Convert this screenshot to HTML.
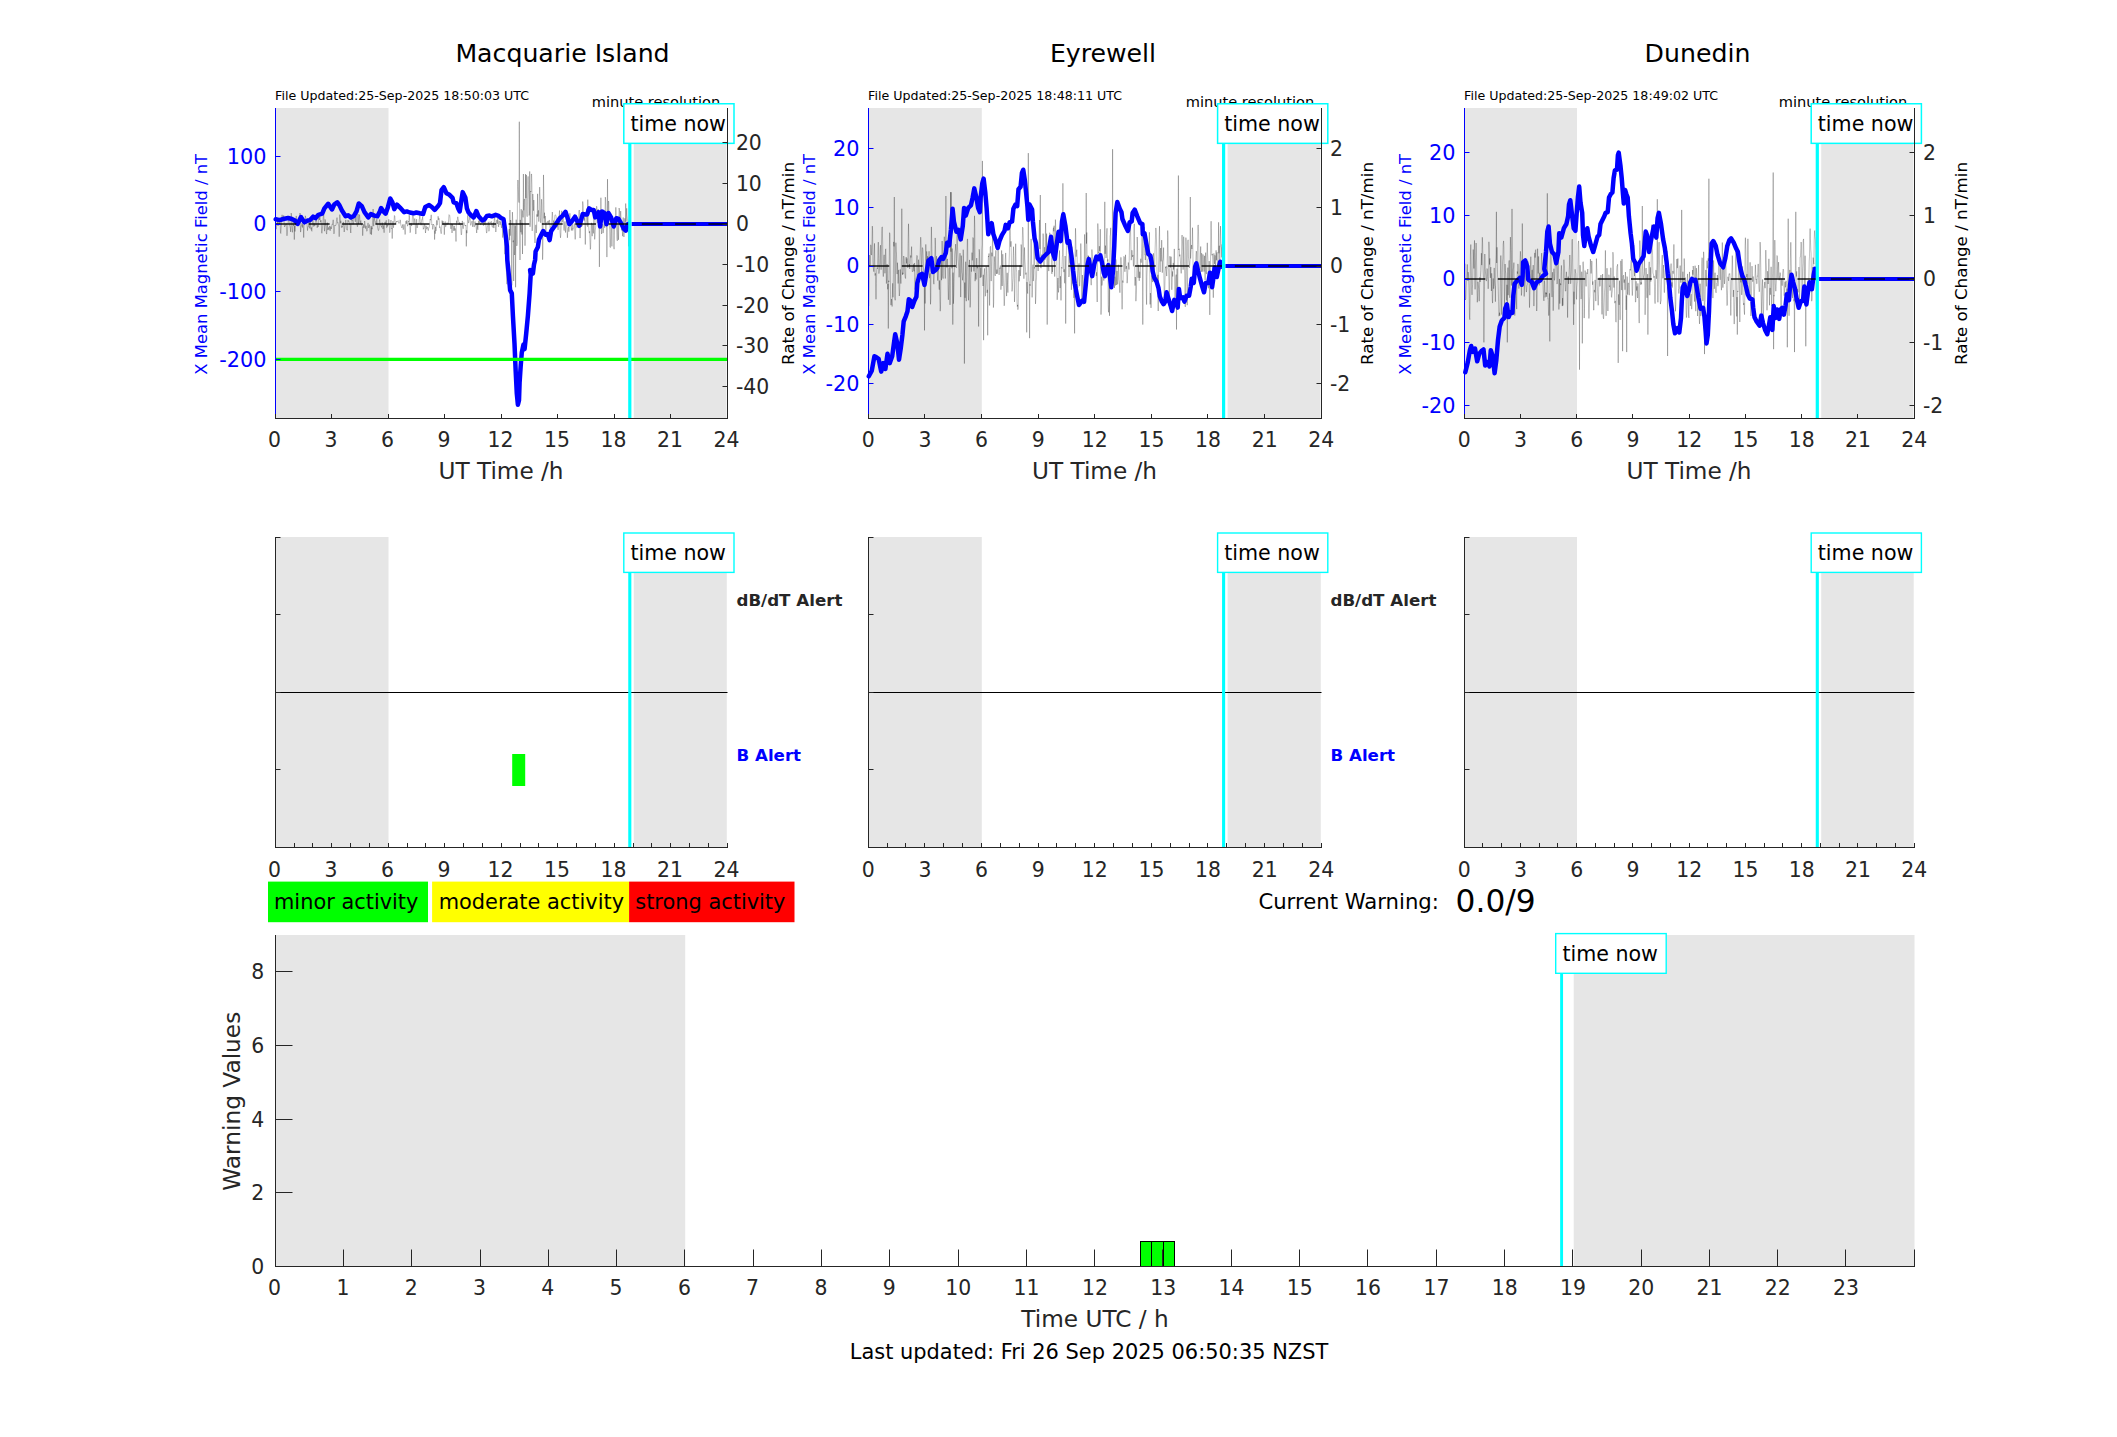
<!DOCTYPE html>
<html><head><meta charset="utf-8"><title>Geomagnetic activity</title>
<style>html,body{margin:0;padding:0;background:#fff}svg{display:block}text{font-family:"DejaVu Sans", "Liberation Sans", sans-serif;white-space:pre}</style>
</head><body>
<svg width="2117" height="1437" viewBox="0 0 2117 1437">
<rect width="2117" height="1437" fill="#fff"/>
<rect x="276.0" y="108.0" width="112.5" height="310.0" fill="#e6e6e6"/>
<rect x="633.8" y="108.0" width="92.7" height="310.0" fill="#e6e6e6"/>
<text x="275.1" y="100" font-size="12.63" fill="#000">File Updated:25-Sep-2025 18:50:03 UTC</text>
<text x="720.3" y="107" font-size="14.6" fill="#000" text-anchor="end">minute resolution</text>
<polyline fill="none" stroke="#000" stroke-opacity="0.55" stroke-width="0.45" stroke-linejoin="miter" points="275.5,223.8 275.8,226.7 276.1,229.2 276.4,226.4 276.8,224.2 277.1,223.2 277.4,221.6 277.7,223.1 278.0,226.0 278.3,224.5 278.6,220.0 279.0,218.1 279.3,220.0 279.6,225.0 279.9,223.3 280.2,222.5 280.5,232.7 280.8,233.5 281.1,228.9 281.5,223.6 281.8,216.5 282.1,214.8 282.4,216.6 282.7,217.0 283.0,217.6 283.3,217.0 283.7,215.4 284.0,219.8 284.3,225.1 284.6,227.0 284.9,226.1 285.2,224.9 285.5,225.0 285.9,224.9 286.2,223.5 286.5,229.5 286.8,235.5 287.1,235.8 287.4,233.0 287.7,226.4 288.1,222.4 288.4,220.5 288.7,218.8 289.0,219.0 289.3,223.1 289.6,226.0 289.9,226.5 290.3,228.2 290.6,231.9 290.9,221.3 291.2,213.1 291.5,215.3 291.8,227.4 292.1,230.5 292.4,232.3 292.8,225.2 293.1,218.9 293.4,223.3 293.7,225.8 294.0,224.7 294.3,239.6 294.6,225.9 295.0,231.5 295.3,227.6 295.6,220.1 295.9,218.0 296.2,215.9 296.5,217.3 296.8,222.2 297.2,222.6 297.5,222.8 297.8,222.6 298.1,222.1 298.4,222.6 298.7,221.7 299.0,221.1 299.4,220.3 299.7,221.2 300.0,213.0 300.3,223.1 300.6,232.1 300.9,229.7 301.2,225.9 301.5,226.1 301.9,223.3 302.2,223.9 302.5,227.5 302.8,224.4 303.1,225.3 303.4,228.5 303.7,237.6 304.1,224.9 304.4,224.7 304.7,223.2 305.0,219.4 305.3,215.8 305.6,217.0 305.9,221.2 306.3,222.6 306.6,223.2 306.9,223.4 307.2,226.7 307.5,230.6 307.8,227.5 308.1,226.2 308.5,226.4 308.8,221.5 309.1,221.8 309.4,228.3 309.7,228.1 310.0,222.2 310.3,221.3 310.6,227.3 311.0,229.4 311.3,227.5 311.6,230.9 311.9,231.3 312.2,226.3 312.5,221.7 312.8,216.1 313.2,218.5 313.5,226.5 313.8,226.2 314.1,223.5 314.4,224.3 314.7,226.2 315.0,225.3 315.4,221.4 315.7,221.2 316.0,221.5 316.3,218.4 316.6,219.4 316.9,224.9 317.2,227.8 317.6,225.6 317.9,225.2 318.2,226.9 318.5,219.4 318.8,214.8 319.1,217.6 319.4,220.0 319.8,216.7 320.1,217.9 320.4,222.0 320.7,222.2 321.0,220.2 321.3,223.4 321.6,232.0 321.9,233.3 322.3,230.0 322.6,226.1 322.9,223.4 323.2,217.2 323.5,214.2 323.8,215.0 324.1,224.8 324.5,231.2 324.8,227.4 325.1,219.4 325.4,220.6 325.7,225.2 326.0,225.0 326.3,232.6 326.7,234.1 327.0,228.0 327.3,222.6 327.6,228.0 327.9,230.1 328.2,228.6 328.5,227.5 328.9,229.5 329.2,229.5 329.5,226.1 329.8,227.0 330.1,230.8 330.4,229.6 330.7,226.5 331.0,227.8 331.4,228.9 331.7,226.6 332.0,224.6 332.3,223.9 332.6,224.5 332.9,222.4 333.2,219.8 333.6,228.2 333.9,233.9 334.2,233.1 334.5,227.2 334.8,225.0 335.1,225.6 335.4,225.2 335.8,225.4 336.1,224.5 336.4,221.6 336.7,219.7 337.0,217.6 337.3,220.8 337.6,223.2 338.0,222.5 338.3,224.3 338.6,225.0 338.9,226.8 339.2,236.7 339.5,223.8 339.8,214.6 340.1,218.1 340.5,223.3 340.8,220.7 341.1,222.1 341.4,227.6 341.7,227.1 342.0,226.2 342.3,227.4 342.7,225.5 343.0,223.3 343.3,221.9 343.6,223.6 343.9,228.7 344.2,232.0 344.5,229.9 344.9,225.5 345.2,223.5 345.5,221.3 345.8,219.9 346.1,223.7 346.4,228.6 346.7,229.5 347.1,230.2 347.4,230.1 347.7,224.0 348.0,220.1 348.3,221.5 348.6,221.1 348.9,220.7 349.3,222.7 349.6,224.5 349.9,223.7 350.2,224.3 350.5,230.9 350.8,233.0 351.1,225.7 351.4,215.3 351.8,215.8 352.1,220.6 352.4,219.9 352.7,222.3 353.0,224.5 353.3,224.1 353.6,221.3 354.0,215.2 354.3,216.0 354.6,217.9 354.9,217.2 355.2,221.8 355.5,221.7 355.8,216.4 356.2,216.3 356.5,221.5 356.8,224.5 357.1,225.2 357.4,226.7 357.7,225.4 358.0,214.0 358.4,224.1 358.7,222.1 359.0,221.2 359.3,216.0 359.6,214.6 359.9,219.4 360.2,224.0 360.5,221.2 360.9,220.5 361.2,222.9 361.5,224.9 361.8,225.1 362.1,225.7 362.4,226.2 362.7,235.7 363.1,227.1 363.4,227.3 363.7,224.2 364.0,227.8 364.3,226.5 364.6,221.0 364.9,222.3 365.3,227.0 365.6,228.6 365.9,225.7 366.2,225.9 366.5,229.2 366.8,231.3 367.1,231.0 367.5,227.2 367.8,223.7 368.1,222.9 368.4,225.7 368.7,228.0 369.0,227.0 369.3,224.8 369.6,224.6 370.0,231.6 370.3,234.2 370.6,233.6 370.9,229.6 371.2,226.0 371.5,234.7 371.8,227.6 372.2,229.2 372.5,222.3 372.8,220.0 373.1,209.0 373.4,222.7 373.7,226.2 374.0,221.1 374.4,217.5 374.7,220.0 375.0,221.0 375.3,222.3 375.6,221.8 375.9,222.6 376.2,224.1 376.6,220.1 376.9,219.1 377.2,223.3 377.5,227.2 377.8,228.5 378.1,229.8 378.4,230.6 378.8,230.0 379.1,227.8 379.4,221.2 379.7,219.5 380.0,222.3 380.3,223.4 380.6,225.4 380.9,225.8 381.3,226.1 381.6,227.4 381.9,225.3 382.2,222.5 382.5,224.2 382.8,229.0 383.1,228.8 383.5,225.4 383.8,229.8 384.1,232.7 384.4,228.1 384.7,223.3 385.0,221.9 385.3,223.0 385.7,224.4 386.0,220.8 386.3,220.3 386.6,227.7 386.9,227.6 387.2,224.7 387.5,226.4 387.9,225.6 388.2,224.8 388.5,222.5 388.8,219.3 389.1,221.2 389.4,226.9 389.7,232.7 390.0,231.5 390.4,224.8 390.7,221.2 391.0,220.0 391.3,223.1 391.6,228.7 391.9,228.0 392.2,238.6 392.6,224.7 392.9,221.2 393.2,226.0 393.5,227.7 393.8,224.0 394.1,220.2 394.4,215.5 394.8,216.2 395.1,221.2 395.4,223.6 395.7,223.0 396.0,222.9 396.3,222.2 396.6,221.0 397.0,221.7 397.3,221.1 397.6,221.2 397.9,220.9 398.2,220.7 398.5,222.7 398.8,223.3 399.2,222.8 399.5,223.2 399.8,222.4 400.1,219.8 400.4,220.5 400.7,224.1 401.0,225.4 401.3,226.2 401.7,227.7 402.0,228.0 402.3,226.7 402.6,224.5 402.9,226.0 403.2,229.7 403.5,229.1 403.9,224.3 404.2,224.7 404.5,227.3 404.8,232.0 405.1,234.5 405.4,232.9 405.7,221.5 406.1,221.1 406.4,223.8 406.7,220.8 407.0,220.2 407.3,224.5 407.6,226.2 407.9,224.3 408.3,221.2 408.6,222.2 408.9,220.5 409.2,215.2 409.5,217.7 409.8,226.3 410.1,232.7 410.4,231.8 410.8,223.8 411.1,223.0 411.4,226.0 411.7,225.6 412.0,223.9 412.3,219.4 412.6,215.4 413.0,215.0 413.3,215.3 413.6,220.8 413.9,224.4 414.2,222.8 414.5,219.5 414.8,218.5 415.2,221.8 415.5,231.2 415.8,234.1 416.1,232.3 416.4,219.3 416.7,219.3 417.0,227.4 417.4,227.9 417.7,225.4 418.0,223.8 418.3,223.3 418.6,223.8 418.9,223.9 419.2,219.5 419.5,219.0 419.9,211.0 420.2,223.4 420.5,222.7 420.8,223.3 421.1,225.3 421.4,223.0 421.7,219.7 422.1,219.8 422.4,217.9 422.7,216.7 423.0,224.7 423.3,229.3 423.6,228.4 423.9,228.6 424.3,226.2 424.6,224.1 424.9,224.3 425.2,228.9 425.5,233.0 425.8,230.2 426.1,225.8 426.5,228.7 426.8,229.2 427.1,228.4 427.4,227.5 427.7,226.9 428.0,229.9 428.3,230.6 428.7,228.3 429.0,227.7 429.3,226.8 429.6,225.2 429.9,222.7 430.2,219.0 430.5,220.2 430.8,218.1 431.2,214.8 431.5,218.3 431.8,224.8 432.1,224.2 432.4,225.3 432.7,229.4 433.0,227.5 433.4,224.0 433.7,224.7 434.0,225.0 434.3,225.9 434.6,239.6 434.9,230.7 435.2,233.7 435.6,226.8 435.9,231.0 436.2,229.5 436.5,220.4 436.8,221.4 437.1,225.2 437.4,222.8 437.8,219.4 438.1,216.3 438.4,218.0 438.7,219.8 439.0,218.3 439.3,222.2 439.6,227.7 439.9,226.6 440.3,227.9 440.6,231.6 440.9,233.0 441.2,233.7 441.5,232.4 441.8,224.5 442.1,220.5 442.5,223.0 442.8,223.0 443.1,221.2 443.4,224.5 443.7,223.5 444.0,224.0 444.3,234.7 444.7,224.8 445.0,221.8 445.3,221.5 445.6,226.8 445.9,226.6 446.2,224.2 446.5,224.2 446.9,222.7 447.2,222.6 447.5,224.4 447.8,224.1 448.1,223.4 448.4,224.1 448.7,218.5 449.0,214.7 449.4,215.1 449.7,215.3 450.0,218.5 450.3,224.0 450.6,226.4 450.9,228.9 451.2,224.9 451.6,223.8 451.9,233.0 452.2,232.5 452.5,224.0 452.8,225.7 453.1,225.8 453.4,227.6 453.8,230.9 454.1,226.1 454.4,226.0 454.7,230.5 455.0,228.3 455.3,228.9 455.6,229.7 456.0,241.5 456.3,226.1 456.6,220.7 456.9,222.7 457.2,222.9 457.5,218.4 457.8,216.8 458.2,219.2 458.5,220.2 458.8,222.3 459.1,224.8 459.4,223.4 459.7,222.4 460.0,223.4 460.3,224.9 460.7,226.0 461.0,232.5 461.3,234.9 461.6,234.0 461.9,227.9 462.2,220.9 462.5,221.1 462.9,227.3 463.2,228.7 463.5,225.5 463.8,222.7 464.1,222.5 464.4,224.6 464.7,225.3 465.1,225.2 465.4,226.1 465.7,225.0 466.0,225.6 466.3,246.4 466.6,230.3 466.9,233.2 467.3,226.8 467.6,216.2 467.9,215.1 468.2,219.3 468.5,223.1 468.8,222.4 469.1,220.2 469.4,219.5 469.8,216.5 470.1,217.3 470.4,223.0 470.7,225.3 471.0,224.6 471.3,223.6 471.6,222.3 472.0,221.1 472.3,222.7 472.6,226.8 472.9,225.4 473.2,218.5 473.5,218.9 473.8,225.1 474.2,227.1 474.5,225.3 474.8,222.5 475.1,221.5 475.4,223.3 475.7,225.3 476.0,225.0 476.4,229.7 476.7,233.0 477.0,228.1 477.3,224.6 477.6,228.4 477.9,229.7 478.2,225.7 478.6,220.8 478.9,221.0 479.2,223.0 479.5,218.5 479.8,216.9 480.1,221.9 480.4,224.7 480.7,224.5 481.1,224.3 481.4,222.9 481.7,218.9 482.0,219.7 482.3,221.5 482.6,219.0 482.9,221.0 483.3,225.6 483.6,225.4 483.9,221.4 484.2,219.4 484.5,222.2 484.8,224.8 485.1,222.0 485.5,220.4 485.8,223.7 486.1,227.6 486.4,231.9 486.7,233.1 487.0,231.4 487.3,227.3 487.7,225.7 488.0,223.3 488.3,221.8 488.6,225.5 488.9,231.3 489.2,230.0 489.5,223.8 489.8,221.8 490.2,222.3 490.5,222.4 490.8,222.6 491.1,221.7 491.4,221.3 491.7,224.3 492.0,226.7 492.4,226.9 492.7,227.3 493.0,224.5 493.3,222.4 493.6,226.5 493.9,228.1 494.2,220.2 494.6,215.3 494.9,220.0 495.2,224.5 495.5,228.2 495.8,232.0 496.1,229.9 496.4,224.2 496.8,219.9 497.1,222.7 497.4,224.0 497.7,217.9 498.0,217.6 498.3,225.4 498.6,226.8 498.9,221.8 499.3,220.8 499.6,222.0 499.9,224.6 500.2,224.9 500.5,221.5 500.8,221.9 501.1,225.0 501.5,227.9 501.8,227.2 502.1,223.7 502.4,228.3 502.7,237.6 503.0,232.8 503.3,225.2 503.7,225.8 504.0,228.4 504.3,232.4 504.6,231.4 504.9,254.2 505.2,229.9 505.5,231.6 505.9,233.3 506.2,269.6 506.5,272.4 506.8,283.9 507.1,284.3 507.4,262.8 507.7,248.3 508.1,255.5 508.4,256.6 508.7,244.7 509.0,230.6 509.3,229.1 509.6,240.2 509.9,210.0 510.2,235.7 510.6,220.0 510.9,222.1 511.2,230.5 511.5,242.7 511.8,285.4 512.1,233.5 512.4,212.1 512.8,221.9 513.1,242.2 513.4,240.5 513.7,281.0 514.0,224.3 514.3,228.5 514.6,255.0 515.0,248.4 515.3,225.6 515.6,287.3 515.9,227.4 516.2,219.7 516.5,230.4 516.8,245.9 517.2,243.2 517.5,186.4 517.8,180.0 518.1,181.0 518.4,189.1 518.7,201.4 519.0,202.6 519.3,121.7 519.7,222.1 520.0,260.0 520.3,219.9 520.6,228.7 520.9,232.3 521.2,209.2 521.5,216.8 521.9,234.5 522.2,222.9 522.5,254.0 522.8,210.5 523.1,217.4 523.4,174.0 523.7,210.4 524.1,201.2 524.4,198.9 524.7,220.1 525.0,245.7 525.3,227.8 525.6,174.0 525.9,198.1 526.3,175.0 526.6,210.0 526.9,215.5 527.2,216.7 527.5,201.2 527.8,180.9 528.1,176.4 528.4,184.4 528.8,199.3 529.1,215.5 529.4,213.4 529.7,171.4 530.0,226.8 530.3,222.2 530.6,191.0 531.0,191.9 531.3,174.0 531.6,174.0 531.9,184.6 532.2,230.9 532.5,215.4 532.8,194.0 533.2,205.2 533.5,210.7 533.8,200.0 534.1,206.3 534.4,232.7 534.7,236.8 535.0,243.0 535.4,229.6 535.7,225.3 536.0,224.8 536.3,233.0 536.6,229.1 536.9,214.4 537.2,216.8 537.6,193.8 537.9,216.3 538.2,211.7 538.5,210.4 538.8,221.6 539.1,215.8 539.4,196.4 539.7,187.1 540.1,198.8 540.4,217.6 540.7,222.8 541.0,220.4 541.3,211.8 541.6,199.2 541.9,204.2 542.3,233.1 542.6,259.7 542.9,252.2 543.2,205.7 543.5,174.9 543.8,193.7 544.1,218.4 544.5,212.7 544.8,222.9 545.1,216.0 545.4,216.4 545.7,234.7 546.0,234.3 546.3,222.8 546.7,222.2 547.0,221.7 547.3,221.9 547.6,222.7 547.9,221.3 548.2,220.8 548.5,223.0 548.8,223.8 549.2,220.2 549.5,220.2 549.8,223.8 550.1,228.1 550.4,232.4 550.7,230.3 551.0,225.9 551.4,225.7 551.7,224.0 552.0,216.7 552.3,212.0 552.6,215.5 552.9,223.5 553.2,225.0 553.6,220.5 553.9,223.3 554.2,228.5 554.5,223.6 554.8,215.8 555.1,214.9 555.4,214.8 555.8,215.5 556.1,216.4 556.4,219.5 556.7,227.3 557.0,227.2 557.3,224.5 557.6,227.0 558.0,229.9 558.3,229.2 558.6,224.2 558.9,221.4 559.2,215.3 559.5,210.5 559.8,217.0 560.1,232.4 560.5,237.8 560.8,235.1 561.1,227.8 561.4,219.1 561.7,210.8 562.0,214.8 562.3,222.3 562.7,221.5 563.0,217.8 563.3,219.7 563.6,225.3 563.9,229.7 564.2,230.6 564.5,224.8 564.9,221.4 565.2,228.1 565.5,232.5 565.8,227.0 566.1,222.8 566.4,220.7 566.7,220.0 567.1,231.1 567.4,237.8 567.7,232.7 568.0,228.6 568.3,227.8 568.6,227.0 568.9,231.7 569.2,227.8 569.6,217.2 569.9,213.3 570.2,217.8 570.5,224.2 570.8,225.5 571.1,227.3 571.4,230.5 571.8,226.5 572.1,220.2 572.4,224.2 572.7,230.5 573.0,228.0 573.3,228.3 573.6,228.0 574.0,225.0 574.3,223.5 574.6,225.1 574.9,237.3 575.2,239.4 575.5,237.0 575.8,224.1 576.2,220.9 576.5,224.3 576.8,227.1 577.1,227.8 577.4,224.6 577.7,225.4 578.0,226.7 578.3,222.4 578.7,218.5 579.0,211.0 579.3,210.0 579.6,221.7 579.9,238.0 580.2,238.0 580.5,228.9 580.9,223.7 581.2,226.0 581.5,226.9 581.8,224.6 582.1,226.2 582.4,219.3 582.7,201.5 583.1,205.5 583.4,216.0 583.7,214.2 584.0,218.4 584.3,220.5 584.6,217.3 584.9,224.2 585.3,244.5 585.6,225.4 585.9,222.8 586.2,215.9 586.5,208.7 586.8,213.6 587.1,225.6 587.5,226.6 587.8,199.6 588.1,220.9 588.4,223.4 588.7,226.9 589.0,230.8 589.3,233.1 589.6,231.3 590.0,242.0 590.3,249.4 590.6,247.5 590.9,235.8 591.2,226.4 591.5,222.8 591.8,230.3 592.2,236.2 592.5,230.3 592.8,224.0 593.1,228.9 593.4,233.4 593.7,219.0 594.0,209.2 594.4,226.1 594.7,239.4 595.0,234.7 595.3,230.1 595.6,227.9 595.9,223.7 596.2,216.9 596.6,206.2 596.9,207.1 597.2,218.4 597.5,222.8 597.8,214.6 598.1,209.2 598.4,219.8 598.7,223.5 599.1,226.5 599.4,266.9 599.7,226.8 600.0,211.1 600.3,213.6 600.6,226.6 600.9,197.7 601.3,227.5 601.6,234.0 601.9,230.7 602.2,227.1 602.5,224.0 602.8,226.4 603.1,233.1 603.5,230.3 603.8,221.5 604.1,219.6 604.4,217.6 604.7,227.8 605.0,216.9 605.3,197.1 605.7,199.9 606.0,216.4 606.3,212.0 606.6,223.8 606.9,257.1 607.2,227.7 607.5,179.2 607.8,217.6 608.2,215.8 608.5,201.0 608.8,202.0 609.1,223.7 609.4,226.2 609.7,229.3 610.0,246.8 610.4,247.6 610.7,231.3 611.0,215.8 611.3,223.8 611.6,233.3 611.9,246.4 612.2,227.8 612.6,227.4 612.9,225.3 613.2,218.7 613.5,221.3 613.8,246.2 614.1,249.2 614.4,235.1 614.8,219.7 615.1,223.4 615.4,222.6 615.7,207.6 616.0,207.3 616.3,221.2 616.6,228.4 617.0,238.2 617.3,240.9 617.6,228.0 617.9,218.6 618.2,230.1 618.5,239.8 618.8,224.0 619.1,208.0 619.5,210.3 619.8,219.7 620.1,222.9 620.4,215.9 620.7,211.1 621.0,216.6 621.3,227.2 621.7,230.4 622.0,226.3 622.3,230.8 622.6,236.2 622.9,227.7 623.2,217.5 623.5,224.4 623.9,237.0 624.2,231.4 624.5,222.4 624.8,218.3 625.1,225.0 625.4,228.4 625.7,203.5 626.1,221.6 626.4,216.3 626.7,208.3 627.0,215.3 627.3,218.5 627.6,220.5 627.9,222.0 628.2,222.4 628.6,246.4 628.9,226.9 629.2,219.5 629.5,217.8"/>
<polyline fill="none" stroke="#0000ff" stroke-width="4.5" stroke-linejoin="round" stroke-linecap="round" points="275.7,219.3 279.8,220.1 283.2,219.0 288.1,218.0 291.9,219.0 294.9,220.5 297.6,223.9 301.0,217.1 304.4,222.4 307.8,220.5 310.1,220.1 313.1,216.7 315.4,218.2 318.4,214.8 322.2,213.7 324.4,208.4 328.2,203.8 332.0,209.5 334.2,204.6 337.3,202.3 339.5,205.4 341.8,210.3 345.6,216.3 348.2,215.2 350.9,217.4 353.9,215.9 356.5,211.4 358.8,203.5 361.8,206.1 364.5,212.2 368.3,217.4 370.9,214.0 374.3,215.6 377.3,216.3 379.6,212.2 381.1,208.0 383.4,211.4 385.6,213.7 387.9,207.2 390.2,198.5 392.4,202.3 394.3,209.1 397.0,204.6 400.0,207.6 404.2,212.2 406.8,211.4 409.8,212.5 413.6,213.3 416.3,212.5 419.7,213.3 423.1,214.0 425.3,206.9 429.1,205.0 432.1,207.2 434.7,209.9 438.1,206.1 440.0,203.1 441.5,190.2 443.8,187.2 446.5,193.3 449.5,194.8 452.5,197.8 453.6,202.3 456.3,203.1 458.2,208.4 459.7,211.4 461.2,201.6 462.7,192.1 465.4,197.8 466.9,208.4 468.4,212.2 471.0,215.2 473.7,217.4 476.3,211.0 478.6,216.3 482.4,220.5 484.6,219.3 486.9,215.9 489.5,215.6 491.8,216.3 495.6,214.8 498.6,215.9 501.3,218.2 503.5,219.0 505.0,229.5 506.9,246.2 507.3,260.0 509.0,276.7 510.1,290.1 511.8,293.4 512.9,315.7 514.5,343.5 515.7,371.4 516.8,393.6 517.9,404.8 519.0,400.3 519.6,382.5 520.7,365.8 521.8,352.4 523.5,344.6 524.6,349.1 526.2,333.5 527.9,315.7 529.6,293.4 530.7,274.5 530.1,270.0 532.9,273.4 534.0,264.5 535.1,260.0 535.6,251.5 537.9,246.9 539.0,239.4 541.3,234.8 543.2,231.1 545.9,234.8 547.7,234.1 549.6,240.1 551.1,231.1 553.8,227.3 556.8,222.7 559.8,218.2 562.5,215.9 565.5,211.8 567.4,217.4 569.3,224.2 571.9,221.2 575.0,216.7 578.0,222.7 579.3,225.8 581.2,219.7 582.7,214.0 585.4,214.4 587.2,214.4 589.1,208.4 591.4,209.9 593.7,209.9 595.2,217.4 597.4,214.4 598.6,212.2 600.1,226.5 602.0,211.4 604.2,212.9 606.5,224.2 608.4,212.9 611.1,217.4 613.7,226.5 616.3,218.2 618.6,219.0 621.6,224.2 623.9,228.8 625.8,230.7 627.7,224.2 628.8,223.9"/>
<line x1="631.6" y1="224.0" x2="727.5" y2="224.0" stroke="#0000ff" stroke-width="4.2"/>
<line x1="275.5" y1="224.0" x2="727.5" y2="224.0" stroke="#000" stroke-width="1.9" stroke-opacity="0.68" stroke-dasharray="20.8 12.5"/>
<line x1="275.5" y1="359.4" x2="727.5" y2="359.4" stroke="#00ff00" stroke-width="3.2"/>
<line x1="629.8" y1="138.0" x2="629.8" y2="418.5" stroke="#00ffff" stroke-width="3.2"/>
<rect x="623.8" y="103.75" width="110.2" height="39.6" fill="#fff" stroke="#00ffff" stroke-width="1.5"/>
<text x="630.4" y="130.6" font-size="20.6" fill="#000">time now</text>
<line x1="275.5" y1="108.0" x2="275.5" y2="419.0" stroke="#0000ff" stroke-width="1"/>
<line x1="727.5" y1="108.0" x2="727.5" y2="419.0" stroke="#262626" stroke-width="1"/>
<line x1="275.0" y1="418.5" x2="728.0" y2="418.5" stroke="#262626" stroke-width="1"/>
<line x1="275.5" y1="418.5" x2="275.5" y2="414.0" stroke="#262626" stroke-width="1"/>
<text x="274.5" y="447.3" font-size="20.4" fill="#262626" text-anchor="middle">0</text>
<line x1="331.5" y1="418.5" x2="331.5" y2="414.0" stroke="#262626" stroke-width="1"/>
<text x="331.0" y="447.3" font-size="20.4" fill="#262626" text-anchor="middle">3</text>
<line x1="388.5" y1="418.5" x2="388.5" y2="414.0" stroke="#262626" stroke-width="1"/>
<text x="387.5" y="447.3" font-size="20.4" fill="#262626" text-anchor="middle">6</text>
<line x1="444.5" y1="418.5" x2="444.5" y2="414.0" stroke="#262626" stroke-width="1"/>
<text x="444.0" y="447.3" font-size="20.4" fill="#262626" text-anchor="middle">9</text>
<line x1="501.5" y1="418.5" x2="501.5" y2="414.0" stroke="#262626" stroke-width="1"/>
<text x="500.5" y="447.3" font-size="20.4" fill="#262626" text-anchor="middle">12</text>
<line x1="557.5" y1="418.5" x2="557.5" y2="414.0" stroke="#262626" stroke-width="1"/>
<text x="557.0" y="447.3" font-size="20.4" fill="#262626" text-anchor="middle">15</text>
<line x1="614.5" y1="418.5" x2="614.5" y2="414.0" stroke="#262626" stroke-width="1"/>
<text x="613.5" y="447.3" font-size="20.4" fill="#262626" text-anchor="middle">18</text>
<line x1="670.5" y1="418.5" x2="670.5" y2="414.0" stroke="#262626" stroke-width="1"/>
<text x="670.0" y="447.3" font-size="20.4" fill="#262626" text-anchor="middle">21</text>
<line x1="727.5" y1="418.5" x2="727.5" y2="414.0" stroke="#262626" stroke-width="1"/>
<text x="726.5" y="447.3" font-size="20.4" fill="#262626" text-anchor="middle">24</text>
<line x1="275.5" y1="156.5" x2="280.5" y2="156.5" stroke="#0000ff" stroke-width="1"/>
<text x="266.5" y="163.7" font-size="20.8" fill="#0000ff" text-anchor="end">100</text>
<line x1="275.5" y1="224.5" x2="280.5" y2="224.5" stroke="#0000ff" stroke-width="1"/>
<text x="266.5" y="231.4" font-size="20.8" fill="#0000ff" text-anchor="end">0</text>
<line x1="275.5" y1="291.5" x2="280.5" y2="291.5" stroke="#0000ff" stroke-width="1"/>
<text x="266.5" y="299.1" font-size="20.8" fill="#0000ff" text-anchor="end">-100</text>
<line x1="275.5" y1="359.5" x2="280.5" y2="359.5" stroke="#0000ff" stroke-width="1"/>
<text x="266.5" y="366.8" font-size="20.8" fill="#0000ff" text-anchor="end">-200</text>
<line x1="727.5" y1="142.5" x2="722.5" y2="142.5" stroke="#262626" stroke-width="1"/>
<text x="735.9" y="150.1" font-size="20.4" fill="#262626">20</text>
<line x1="727.5" y1="183.5" x2="722.5" y2="183.5" stroke="#262626" stroke-width="1"/>
<text x="735.9" y="190.7" font-size="20.4" fill="#262626">10</text>
<line x1="727.5" y1="224.5" x2="722.5" y2="224.5" stroke="#262626" stroke-width="1"/>
<text x="735.9" y="231.3" font-size="20.4" fill="#262626">0</text>
<line x1="727.5" y1="264.5" x2="722.5" y2="264.5" stroke="#262626" stroke-width="1"/>
<text x="735.9" y="271.9" font-size="20.4" fill="#262626">-10</text>
<line x1="727.5" y1="305.5" x2="722.5" y2="305.5" stroke="#262626" stroke-width="1"/>
<text x="735.9" y="312.5" font-size="20.4" fill="#262626">-20</text>
<line x1="727.5" y1="345.5" x2="722.5" y2="345.5" stroke="#262626" stroke-width="1"/>
<text x="735.9" y="353.1" font-size="20.4" fill="#262626">-30</text>
<line x1="727.5" y1="386.5" x2="722.5" y2="386.5" stroke="#262626" stroke-width="1"/>
<text x="735.9" y="393.7" font-size="20.4" fill="#262626">-40</text>
<text x="501.0" y="478.5" font-size="23.2" fill="#262626" text-anchor="middle">UT Time /h</text>
<text x="562.5" y="62" font-size="25.2" fill="#000" text-anchor="middle">Macquarie Island</text>
<text x="207.3" y="264.3" font-size="16.4" fill="#0000ff" text-anchor="middle" transform="rotate(-90 207.3 264.3)">X Mean Magnetic Field / nT</text>
<text x="793.5" y="263.5" font-size="16.7" fill="#000" text-anchor="middle" transform="rotate(-90 793.5 263.5)">Rate of Change / nT/min</text>
<rect x="869.0" y="108.0" width="112.8" height="310.0" fill="#e6e6e6"/>
<rect x="1227.6" y="108.0" width="92.9" height="310.0" fill="#e6e6e6"/>
<text x="868.1" y="100" font-size="12.63" fill="#000">File Updated:25-Sep-2025 18:48:11 UTC</text>
<text x="1314.3" y="107" font-size="14.6" fill="#000" text-anchor="end">minute resolution</text>
<polyline fill="none" stroke="#000" stroke-opacity="0.55" stroke-width="0.45" stroke-linejoin="miter" points="868.5,306.1 868.8,306.1 869.1,287.1 869.4,255.1 869.8,256.8 870.1,265.6 870.4,257.8 870.7,244.8 871.0,246.0 871.3,254.1 871.6,255.1 872.0,242.3 872.3,226.1 872.6,230.6 872.9,261.0 873.2,267.3 873.5,269.0 873.8,271.7 874.2,253.0 874.5,243.4 874.8,264.3 875.1,275.5 875.4,273.3 875.7,288.3 876.0,299.3 876.4,283.3 876.7,271.0 877.0,267.7 877.3,268.3 877.6,268.8 877.9,252.4 878.3,242.1 878.6,258.3 878.9,273.6 879.2,271.1 879.5,267.9 879.8,263.3 880.1,249.9 880.5,245.2 880.8,260.7 881.1,269.7 881.4,252.1 881.7,233.4 882.0,227.0 882.3,226.9 882.7,244.8 883.0,270.4 883.3,276.6 883.6,265.4 883.9,256.7 884.2,254.8 884.5,261.7 884.9,273.3 885.2,268.1 885.5,249.7 885.8,248.8 886.1,270.0 886.4,283.6 886.7,277.4 887.1,264.1 887.4,273.5 887.7,289.3 888.0,284.0 888.3,328.5 888.6,280.7 888.9,282.0 889.3,256.7 889.6,232.7 889.9,234.4 890.2,262.1 890.5,294.7 890.8,305.1 891.1,304.8 891.5,299.0 891.8,302.6 892.1,306.5 892.4,294.2 892.7,283.3 893.0,297.3 893.4,274.6 893.7,241.9 894.0,246.4 894.3,197.0 894.6,257.9 894.9,298.1 895.2,300.3 895.6,260.4 895.9,242.7 896.2,251.0 896.5,254.1 896.8,266.5 897.1,274.1 897.4,262.7 897.8,269.5 898.1,283.5 898.4,272.0 898.7,269.9 899.0,287.8 899.3,296.0 899.6,293.1 900.0,279.7 900.3,269.4 900.6,277.0 900.9,283.6 901.2,271.9 901.5,255.1 901.8,208.7 902.2,258.8 902.5,274.8 902.8,272.7 903.1,274.2 903.4,270.1 903.7,256.0 904.0,258.1 904.4,263.7 904.7,271.7 905.0,275.8 905.3,278.1 905.6,278.5 905.9,258.7 906.2,257.1 906.6,263.4 906.9,258.4 907.2,262.7 907.5,265.4 907.8,267.8 908.1,243.5 908.5,223.8 908.8,239.0 909.1,266.9 909.4,264.0 909.7,268.9 910.0,265.9 910.3,259.7 910.7,255.5 911.0,257.5 911.3,252.7 911.6,246.6 911.9,261.1 912.2,271.3 912.5,271.9 912.9,270.5 913.2,268.2 913.5,264.3 913.8,269.6 914.1,271.4 914.4,263.0 914.7,279.9 915.1,289.6 915.4,278.4 915.7,278.1 916.0,277.2 916.3,268.1 916.6,258.4 916.9,255.4 917.3,256.1 917.6,272.8 917.9,290.6 918.2,274.9 918.5,259.7 918.8,268.3 919.1,276.6 919.5,272.1 919.8,263.1 920.1,255.3 920.4,244.9 920.7,237.2 921.0,242.1 921.4,260.7 921.7,276.7 922.0,264.3 922.3,247.7 922.6,247.7 922.9,249.6 923.2,258.5 923.6,272.8 923.9,276.3 924.2,276.5 924.5,330.4 924.8,281.2 925.1,303.5 925.4,275.0 925.8,244.4 926.1,259.2 926.4,262.7 926.7,251.4 927.0,256.2 927.3,261.9 927.6,256.2 928.0,262.2 928.3,269.7 928.6,266.7 928.9,251.3 929.2,251.4 929.5,278.2 929.8,274.5 930.2,273.4 930.5,304.3 930.8,298.6 931.1,245.0 931.4,226.9 931.7,242.1 932.0,256.0 932.4,265.4 932.7,272.1 933.0,272.9 933.3,275.6 933.6,282.2 933.9,284.2 934.2,276.0 934.6,267.2 934.9,254.4 935.2,237.9 935.5,245.6 935.8,265.6 936.1,262.0 936.5,256.2 936.8,261.3 937.1,266.9 937.4,275.9 937.7,280.6 938.0,270.0 938.3,263.5 938.7,272.3 939.0,287.4 939.3,289.7 939.6,280.5 939.9,300.3 940.2,311.2 940.5,307.0 940.9,268.2 941.2,259.4 941.5,280.2 941.8,268.5 942.1,241.0 942.4,251.7 942.7,275.9 943.1,278.6 943.4,266.0 943.7,255.0 944.0,245.7 944.3,236.7 944.6,246.9 944.9,267.6 945.3,278.5 945.6,260.5 945.9,196.0 946.2,252.7 946.5,258.8 946.8,267.5 947.1,260.8 947.5,258.9 947.8,272.9 948.1,290.2 948.4,299.8 948.7,284.8 949.0,268.9 949.3,267.3 949.7,278.7 950.0,304.9 950.3,273.6 950.6,192.1 950.9,251.7 951.2,192.2 951.5,257.0 951.9,268.3 952.2,248.5 952.5,257.4 952.8,324.6 953.1,272.6 953.4,303.7 953.8,294.6 954.1,278.7 954.4,270.5 954.7,254.8 955.0,250.9 955.3,250.1 955.6,244.1 956.0,256.3 956.3,268.0 956.6,258.8 956.9,237.9 957.2,233.6 957.5,246.2 957.8,253.0 958.2,259.8 958.5,263.9 958.8,270.5 959.1,277.3 959.4,273.3 959.7,262.7 960.0,253.2 960.4,274.7 960.7,297.1 961.0,273.8 961.3,255.6 961.6,263.1 961.9,272.2 962.2,273.8 962.6,280.3 962.9,275.2 963.2,249.7 963.5,258.8 963.8,282.5 964.1,282.9 964.4,363.6 964.8,282.5 965.1,297.8 965.4,275.3 965.7,261.7 966.0,295.6 966.3,301.2 966.6,271.0 967.0,258.8 967.3,239.7 967.6,238.9 967.9,269.3 968.2,292.7 968.5,300.3 968.9,284.3 969.2,264.5 969.5,259.9 969.8,289.1 970.1,307.4 970.4,303.2 970.7,279.0 971.1,267.0 971.4,271.7 971.7,265.6 972.0,252.6 972.3,260.4 972.6,254.8 972.9,237.5 973.3,238.5 973.6,250.8 973.9,271.4 974.2,238.6 974.5,215.8 974.8,227.7 975.1,281.2 975.5,273.0 975.8,274.1 976.1,279.5 976.4,267.6 976.7,258.1 977.0,267.1 977.3,268.3 977.7,266.3 978.0,277.2 978.3,280.7 978.6,326.5 978.9,274.3 979.2,249.3 979.5,252.7 979.9,269.9 980.2,277.9 980.5,275.2 980.8,267.6 981.1,277.2 981.4,274.7 981.8,248.9 982.1,244.8 982.4,160.9 982.7,268.5 983.0,286.0 983.3,274.8 983.6,340.2 984.0,279.6 984.3,272.7 984.6,268.4 984.9,280.7 985.2,296.3 985.5,295.4 985.8,281.1 986.2,266.6 986.5,271.1 986.8,283.0 987.1,292.8 987.4,289.8 987.7,335.3 988.0,272.1 988.4,256.1 988.7,256.9 989.0,253.5 989.3,281.0 989.6,305.5 989.9,285.8 990.2,247.2 990.6,246.3 990.9,267.0 991.2,281.1 991.5,266.9 991.8,252.6 992.1,256.3 992.4,243.1 992.8,232.6 993.1,276.9 993.4,307.6 993.7,303.0 994.0,271.3 994.3,256.5 994.6,262.4 995.0,274.9 995.3,275.9 995.6,255.7 995.9,250.3 996.2,271.9 996.5,273.8 996.9,269.5 997.2,273.8 997.5,272.9 997.8,256.2 998.1,242.8 998.4,253.9 998.7,269.8 999.1,274.9 999.4,271.1 999.7,267.8 1000.0,268.7 1000.3,265.5 1000.6,265.7 1000.9,289.7 1001.3,282.4 1001.6,250.4 1001.9,267.7 1002.2,286.0 1002.5,267.4 1002.8,254.2 1003.1,268.9 1003.5,280.7 1003.8,289.6 1004.1,305.8 1004.4,305.3 1004.7,294.2 1005.0,282.9 1005.3,259.4 1005.7,252.9 1006.0,263.9 1006.3,280.9 1006.6,296.1 1006.9,285.4 1007.2,272.8 1007.5,284.1 1007.9,292.6 1008.2,280.4 1008.5,273.7 1008.8,271.2 1009.1,262.5 1009.4,253.1 1009.7,228.0 1010.1,224.1 1010.4,235.6 1010.7,246.8 1011.0,241.3 1011.3,252.8 1011.6,272.9 1012.0,291.4 1012.3,289.4 1012.6,282.6 1012.9,278.8 1013.2,257.3 1013.5,246.7 1013.8,255.6 1014.2,278.9 1014.5,301.9 1014.8,293.6 1015.1,278.3 1015.4,256.4 1015.7,243.7 1016.0,262.4 1016.4,269.5 1016.7,272.3 1017.0,302.1 1017.3,306.5 1017.6,304.9 1017.9,309.7 1018.2,307.4 1018.6,275.3 1018.9,270.1 1019.2,281.4 1019.5,275.1 1019.8,265.6 1020.1,265.9 1020.4,276.0 1020.8,267.9 1021.1,244.5 1021.4,246.4 1021.7,264.0 1022.0,265.0 1022.3,241.6 1022.6,227.2 1023.0,228.1 1023.3,239.2 1023.6,263.5 1023.9,278.7 1024.2,260.3 1024.5,247.5 1024.8,259.0 1025.2,264.5 1025.5,269.5 1025.8,274.5 1026.1,272.7 1026.4,277.4 1026.7,332.4 1027.0,282.1 1027.4,291.6 1027.7,293.6 1028.0,258.2 1028.3,153.1 1028.6,253.0 1028.9,280.4 1029.3,282.0 1029.6,338.2 1029.9,284.1 1030.2,285.8 1030.5,275.2 1030.8,256.0 1031.1,238.9 1031.5,254.6 1031.8,283.3 1032.1,297.4 1032.4,289.7 1032.7,266.9 1033.0,264.7 1033.3,281.1 1033.7,273.5 1034.0,241.6 1034.3,238.1 1034.6,268.4 1034.9,267.3 1035.2,272.1 1035.5,303.9 1035.9,295.7 1036.2,281.4 1036.5,277.6 1036.8,264.0 1037.1,256.3 1037.4,255.2 1037.7,261.9 1038.1,271.0 1038.4,266.8 1038.7,248.6 1039.0,245.3 1039.3,227.1 1039.6,220.0 1039.9,249.0 1040.3,195.0 1040.6,267.4 1040.9,268.1 1041.2,268.1 1041.5,258.6 1041.8,254.5 1042.2,262.3 1042.5,256.2 1042.8,241.6 1043.1,233.6 1043.4,237.6 1043.7,258.8 1044.0,266.2 1044.4,247.4 1044.7,247.2 1045.0,259.8 1045.3,237.5 1045.6,223.0 1045.9,236.0 1046.2,254.4 1046.6,233.6 1046.9,264.1 1047.2,324.6 1047.5,272.6 1047.8,258.5 1048.1,253.8 1048.4,267.1 1048.8,271.1 1049.1,263.8 1049.4,245.1 1049.7,232.7 1050.0,234.3 1050.3,235.1 1050.6,239.6 1051.0,236.4 1051.3,244.9 1051.6,270.4 1051.9,273.9 1052.2,266.4 1052.5,271.9 1052.8,263.5 1053.2,229.3 1053.5,227.7 1053.8,231.3 1054.1,225.7 1054.4,242.6 1054.7,276.6 1055.0,242.7 1055.4,219.6 1055.7,226.6 1056.0,260.2 1056.3,249.2 1056.6,239.1 1056.9,272.8 1057.2,299.8 1057.6,284.1 1057.9,278.0 1058.2,288.4 1058.5,292.4 1058.8,284.8 1059.1,261.4 1059.5,250.5 1059.8,273.1 1060.1,288.1 1060.4,276.2 1060.7,281.3 1061.0,300.4 1061.3,284.3 1061.7,267.1 1062.0,268.5 1062.3,257.2 1062.6,254.7 1062.9,183.3 1063.2,252.8 1063.5,267.5 1063.9,272.1 1064.2,269.3 1064.5,282.3 1064.8,283.3 1065.1,256.0 1065.4,263.1 1065.7,323.6 1066.1,268.8 1066.4,250.4 1066.7,237.0 1067.0,237.6 1067.3,244.1 1067.6,236.3 1067.9,243.6 1068.3,249.4 1068.6,250.4 1068.9,277.0 1069.2,274.6 1069.5,248.7 1069.8,254.8 1070.1,262.9 1070.5,254.6 1070.8,248.7 1071.1,273.4 1071.4,289.8 1071.7,263.5 1072.0,246.7 1072.3,262.4 1072.7,283.6 1073.0,276.4 1073.3,266.8 1073.6,282.3 1073.9,297.9 1074.2,290.4 1074.6,333.4 1074.9,277.0 1075.2,248.5 1075.5,228.3 1075.8,237.2 1076.1,256.7 1076.4,252.5 1076.8,249.7 1077.1,256.6 1077.4,273.7 1077.7,287.9 1078.0,279.5 1078.3,271.9 1078.6,267.8 1079.0,263.4 1079.3,275.7 1079.6,286.2 1079.9,281.5 1080.2,271.1 1080.5,255.2 1080.8,243.5 1081.2,255.7 1081.5,283.1 1081.8,303.9 1082.1,295.9 1082.4,275.0 1082.7,279.6 1083.0,300.1 1083.4,304.4 1083.7,284.0 1084.0,271.9 1084.3,259.5 1084.6,234.4 1084.9,246.9 1085.2,274.4 1085.6,284.3 1085.9,259.8 1086.2,193.0 1086.5,243.6 1086.8,232.5 1087.1,263.7 1087.5,278.3 1087.8,262.7 1088.1,255.5 1088.4,257.1 1088.7,255.9 1089.0,258.9 1089.3,259.2 1089.7,261.3 1090.0,264.9 1090.3,258.1 1090.6,257.8 1090.9,277.9 1091.2,285.2 1091.5,261.6 1091.9,249.5 1092.2,253.2 1092.5,256.8 1092.8,269.0 1093.1,272.0 1093.4,263.4 1093.7,265.9 1094.1,268.6 1094.4,267.0 1094.7,268.3 1095.0,262.7 1095.3,256.8 1095.6,261.8 1095.9,270.0 1096.3,275.9 1096.6,272.3 1096.9,286.5 1097.2,302.0 1097.5,254.2 1097.8,223.5 1098.1,231.0 1098.5,253.3 1098.8,252.5 1099.1,253.2 1099.4,246.2 1099.7,251.2 1100.0,247.4 1100.3,229.2 1100.7,284.7 1101.0,314.6 1101.3,305.5 1101.6,276.7 1101.9,285.5 1102.2,283.6 1102.5,276.2 1102.9,265.7 1103.2,263.6 1103.5,274.8 1103.8,280.6 1104.1,269.0 1104.4,253.4 1104.8,201.8 1105.1,253.9 1105.4,245.6 1105.7,248.2 1106.0,258.0 1106.3,253.1 1106.6,235.0 1107.0,228.3 1107.3,254.5 1107.6,261.5 1107.9,259.4 1108.2,305.2 1108.5,312.3 1108.8,304.5 1109.2,279.3 1109.5,315.8 1109.8,257.0 1110.1,235.9 1110.4,235.0 1110.7,227.8 1111.0,252.4 1111.4,268.4 1111.7,267.4 1112.0,267.7 1112.3,248.7 1112.6,149.2 1112.9,241.9 1113.2,255.5 1113.6,275.7 1113.9,276.7 1114.2,281.3 1114.5,287.9 1114.8,276.7 1115.1,280.7 1115.4,285.5 1115.8,259.3 1116.1,261.6 1116.4,285.0 1116.7,278.0 1117.0,270.9 1117.3,280.8 1117.7,284.4 1118.0,273.6 1118.3,264.7 1118.6,269.8 1118.9,279.8 1119.2,281.9 1119.5,284.6 1119.9,292.7 1120.2,279.3 1120.5,260.1 1120.8,257.3 1121.1,257.5 1121.4,261.1 1121.7,295.0 1122.1,309.3 1122.4,299.2 1122.7,280.6 1123.0,282.6 1123.3,270.3 1123.6,262.1 1123.9,256.4 1124.3,257.3 1124.6,266.0 1124.9,271.8 1125.2,262.7 1125.5,254.8 1125.8,263.7 1126.1,268.8 1126.5,266.1 1126.8,272.8 1127.1,283.2 1127.4,280.5 1127.7,272.8 1128.0,267.0 1128.3,262.5 1128.7,265.5 1129.0,269.5 1129.3,255.4 1129.6,237.0 1129.9,231.4 1130.2,226.5 1130.5,227.1 1130.9,246.7 1131.2,260.2 1131.5,257.9 1131.8,250.2 1132.1,250.9 1132.4,256.9 1132.8,255.1 1133.1,255.0 1133.4,266.4 1133.7,262.3 1134.0,227.3 1134.3,223.8 1134.6,252.6 1135.0,285.6 1135.3,277.0 1135.6,281.3 1135.9,301.2 1136.2,294.7 1136.5,287.9 1136.8,270.8 1137.2,237.0 1137.5,244.9 1137.8,269.3 1138.1,277.8 1138.4,272.1 1138.7,264.8 1139.0,280.8 1139.4,280.5 1139.7,271.7 1140.0,278.0 1140.3,272.7 1140.6,259.5 1140.9,258.7 1141.2,262.7 1141.6,253.4 1141.9,242.4 1142.2,226.7 1142.5,256.3 1142.8,324.6 1143.1,260.2 1143.4,248.7 1143.8,241.6 1144.1,227.2 1144.4,242.2 1144.7,254.4 1145.0,254.1 1145.3,260.0 1145.6,248.6 1146.0,249.1 1146.3,293.3 1146.6,304.6 1146.9,276.4 1147.2,267.2 1147.5,266.3 1147.8,259.3 1148.2,259.1 1148.5,255.4 1148.8,254.6 1149.1,247.1 1149.4,232.3 1149.7,262.9 1150.1,304.4 1150.4,293.1 1150.7,295.4 1151.0,307.9 1151.3,297.9 1151.6,275.3 1151.9,277.2 1152.3,281.2 1152.6,282.1 1152.9,273.9 1153.2,257.3 1153.5,253.3 1153.8,265.1 1154.1,281.4 1154.5,278.7 1154.8,257.1 1155.1,249.6 1155.4,240.2 1155.7,228.2 1156.0,227.9 1156.3,232.4 1156.7,247.8 1157.0,271.1 1157.3,286.9 1157.6,284.5 1157.9,274.8 1158.2,311.0 1158.5,267.9 1158.9,256.6 1159.2,236.7 1159.5,226.2 1159.8,251.4 1160.1,272.0 1160.4,250.5 1160.7,248.0 1161.1,261.4 1161.4,255.0 1161.7,240.1 1162.0,254.5 1162.3,272.7 1162.6,261.2 1163.0,259.7 1163.3,257.1 1163.6,247.6 1163.9,275.4 1164.2,298.0 1164.5,297.1 1164.8,288.4 1165.2,271.9 1165.5,267.3 1165.8,268.1 1166.1,266.2 1166.4,271.2 1166.7,276.1 1167.0,268.3 1167.4,252.9 1167.7,230.5 1168.0,237.5 1168.3,268.7 1168.6,269.0 1168.9,281.6 1169.2,305.2 1169.6,287.1 1169.9,256.2 1170.2,259.9 1170.5,267.5 1170.8,265.0 1171.1,256.7 1171.4,268.4 1171.8,289.8 1172.1,282.2 1172.4,271.4 1172.7,276.5 1173.0,271.1 1173.3,262.9 1173.6,269.6 1174.0,263.4 1174.3,248.9 1174.6,277.1 1174.9,307.2 1175.2,306.1 1175.5,292.4 1175.8,277.6 1176.2,274.6 1176.5,329.5 1176.8,276.2 1177.1,268.6 1177.4,280.8 1177.7,300.7 1178.0,256.5 1178.4,175.5 1178.7,250.0 1179.0,248.9 1179.3,248.8 1179.6,256.3 1179.9,254.6 1180.3,258.9 1180.6,264.2 1180.9,268.1 1181.2,273.4 1181.5,260.0 1181.8,237.2 1182.1,235.0 1182.5,241.9 1182.8,252.0 1183.1,269.7 1183.4,258.7 1183.7,236.7 1184.0,249.5 1184.3,261.8 1184.7,273.9 1185.0,304.1 1185.3,306.9 1185.6,276.1 1185.9,237.6 1186.2,245.6 1186.5,263.6 1186.9,286.7 1187.2,305.2 1187.5,286.7 1187.8,241.7 1188.1,239.8 1188.4,257.0 1188.7,258.8 1189.1,263.1 1189.4,267.9 1189.7,265.1 1190.0,260.3 1190.3,197.0 1190.6,258.5 1190.9,252.3 1191.3,247.5 1191.6,245.0 1191.9,249.0 1192.2,243.1 1192.5,227.7 1192.8,244.2 1193.2,280.3 1193.5,283.8 1193.8,272.4 1194.1,276.9 1194.4,283.3 1194.7,277.6 1195.0,275.6 1195.4,273.4 1195.7,262.5 1196.0,254.5 1196.3,251.1 1196.6,253.1 1196.9,262.2 1197.2,261.4 1197.6,244.6 1197.9,226.6 1198.2,224.9 1198.5,231.2 1198.8,248.8 1199.1,268.2 1199.4,279.6 1199.8,274.6 1200.1,269.4 1200.4,254.7 1200.7,246.5 1201.0,267.3 1201.3,271.8 1201.6,253.2 1202.0,255.8 1202.3,271.7 1202.6,268.4 1202.9,254.4 1203.2,254.8 1203.5,262.0 1203.8,271.7 1204.2,271.4 1204.5,255.8 1204.8,266.4 1205.1,280.3 1205.4,258.6 1205.7,252.6 1206.0,271.6 1206.4,274.1 1206.7,266.6 1207.0,252.4 1207.3,242.8 1207.6,253.8 1207.9,259.7 1208.2,272.3 1208.6,288.3 1208.9,276.0 1209.2,261.1 1209.5,268.3 1209.8,314.9 1210.1,273.2 1210.5,265.6 1210.8,227.2 1211.1,221.2 1211.4,228.6 1211.7,252.8 1212.0,255.3 1212.3,253.9 1212.7,259.1 1213.0,282.8 1213.3,297.7 1213.6,274.2 1213.9,253.4 1214.2,259.8 1214.5,263.9 1214.9,255.3 1215.2,256.3 1215.5,268.6 1215.8,258.5 1216.1,250.3 1216.4,260.3 1216.7,253.6 1217.1,252.3 1217.4,263.5 1217.7,270.0 1218.0,267.2 1218.3,257.7 1218.6,222.3 1218.9,253.3 1219.3,245.7 1219.6,268.1 1219.9,269.4 1220.2,236.6 1220.5,226.1 1220.8,240.1 1221.1,246.2 1221.5,248.0 1221.8,257.4 1222.1,244.4 1222.4,259.8 1222.7,279.5 1223.0,274.3 1223.3,270.0"/>
<polyline fill="none" stroke="#0000ff" stroke-width="4.5" stroke-linejoin="round" stroke-linecap="round" points="868.8,376.3 871.8,370.7 874.4,356.3 876.1,357.1 878.6,358.8 881.2,371.6 883.3,363.1 885.4,369.0 887.5,353.7 889.7,363.1 892.2,356.3 893.9,343.5 895.2,334.2 897.3,343.5 899.0,359.7 900.7,348.6 902.4,335.0 903.7,321.4 905.8,316.3 907.5,311.2 908.8,299.3 910.9,301.0 912.2,307.0 914.3,301.0 916.4,296.8 917.3,283.2 919.4,275.5 922.0,273.8 924.5,284.9 926.6,272.1 928.4,260.6 931.3,258.1 933.0,272.1 935.6,270.0 937.3,267.9 939.0,260.6 941.5,257.2 943.2,258.9 945.8,253.0 947.1,242.8 949.2,245.3 950.9,230.0 952.6,208.8 953.9,221.5 956.4,231.7 958.5,230.0 960.7,239.4 962.8,225.8 964.1,207.9 965.8,215.6 968.3,207.9 970.9,205.4 972.6,197.7 974.3,188.4 976.4,197.7 978.1,207.9 979.8,212.2 980.6,197.7 982.3,183.3 983.6,178.6 985.3,192.6 986.6,207.9 988.3,234.3 990.4,225.8 991.7,223.2 993.4,234.3 995.5,240.2 997.7,247.9 999.4,241.1 1001.9,235.1 1004.5,230.9 1005.7,224.9 1007.9,228.3 1009.6,222.4 1012.1,221.5 1013.4,208.8 1015.5,204.5 1017.2,206.2 1018.5,189.2 1020.6,186.7 1021.9,173.1 1023.2,169.7 1024.9,180.7 1026.1,192.6 1027.4,206.2 1028.3,219.8 1029.5,204.5 1032.1,209.6 1032.9,221.5 1034.6,238.5 1035.9,242.8 1037.6,258.1 1040.2,261.5 1042.7,258.1 1045.0,255.5 1048.4,252.1 1051.0,236.8 1052.7,252.1 1054.8,258.9 1056.9,242.8 1058.6,231.7 1060.7,241.1 1062.0,221.5 1063.3,214.3 1065.4,225.8 1067.5,242.8 1069.2,241.1 1071.4,255.5 1073.1,271.0 1074.8,283.8 1076.9,294.8 1079.0,305.0 1082.0,300.8 1084.1,301.6 1085.8,284.6 1087.5,265.1 1088.8,259.1 1090.5,269.3 1092.2,276.1 1094.3,264.2 1096.4,256.6 1098.1,259.1 1100.3,255.3 1102.0,262.5 1103.7,272.7 1104.9,276.1 1106.6,269.3 1108.4,265.1 1110.1,277.8 1111.3,287.2 1113.0,271.0 1114.3,245.5 1115.6,213.0 1117.3,202.0 1119.8,208.8 1121.5,212.2 1122.4,219.0 1124.9,224.9 1127.9,230.9 1129.6,222.4 1131.7,221.5 1132.6,213.0 1134.7,209.6 1137.3,216.4 1140.2,223.2 1142.4,224.1 1142.8,234.3 1144.5,233.4 1146.2,242.8 1148.3,254.0 1150.4,255.7 1151.7,262.5 1152.6,271.0 1154.3,277.8 1156.4,281.2 1158.5,288.0 1159.8,296.5 1161.9,301.6 1163.6,304.2 1165.3,301.6 1166.6,292.3 1168.3,298.2 1170.4,305.0 1172.1,311.0 1174.3,299.9 1176.4,301.6 1177.7,307.6 1178.9,288.9 1180.2,298.2 1182.8,297.4 1184.5,301.6 1186.6,295.7 1189.1,295.7 1190.8,286.3 1191.7,278.7 1193.8,282.9 1195.1,266.8 1196.4,263.4 1198.1,271.0 1199.8,277.8 1201.9,285.5 1204.0,292.3 1205.7,282.9 1208.3,282.9 1210.0,272.7 1212.1,287.2 1213.8,275.3 1214.6,267.6 1216.8,277.0 1218.9,266.8 1220.2,261.7 1222.3,266.8"/>
<line x1="1225.4" y1="266.0" x2="1321.5" y2="266.0" stroke="#0000ff" stroke-width="4.2"/>
<line x1="868.5" y1="266.0" x2="1321.5" y2="266.0" stroke="#000" stroke-width="1.9" stroke-opacity="0.68" stroke-dasharray="20.8 12.5"/>
<line x1="1223.6" y1="138.0" x2="1223.6" y2="418.5" stroke="#00ffff" stroke-width="3.2"/>
<rect x="1217.6" y="103.75" width="110.2" height="39.6" fill="#fff" stroke="#00ffff" stroke-width="1.5"/>
<text x="1224.2" y="130.6" font-size="20.6" fill="#000">time now</text>
<line x1="868.5" y1="108.0" x2="868.5" y2="419.0" stroke="#0000ff" stroke-width="1"/>
<line x1="1321.5" y1="108.0" x2="1321.5" y2="419.0" stroke="#262626" stroke-width="1"/>
<line x1="868.0" y1="418.5" x2="1322.0" y2="418.5" stroke="#262626" stroke-width="1"/>
<line x1="868.5" y1="418.5" x2="868.5" y2="414.0" stroke="#262626" stroke-width="1"/>
<text x="868.3" y="447.3" font-size="20.4" fill="#262626" text-anchor="middle">0</text>
<line x1="924.5" y1="418.5" x2="924.5" y2="414.0" stroke="#262626" stroke-width="1"/>
<text x="924.9" y="447.3" font-size="20.4" fill="#262626" text-anchor="middle">3</text>
<line x1="981.5" y1="418.5" x2="981.5" y2="414.0" stroke="#262626" stroke-width="1"/>
<text x="981.5" y="447.3" font-size="20.4" fill="#262626" text-anchor="middle">6</text>
<line x1="1038.5" y1="418.5" x2="1038.5" y2="414.0" stroke="#262626" stroke-width="1"/>
<text x="1038.2" y="447.3" font-size="20.4" fill="#262626" text-anchor="middle">9</text>
<line x1="1094.5" y1="418.5" x2="1094.5" y2="414.0" stroke="#262626" stroke-width="1"/>
<text x="1094.8" y="447.3" font-size="20.4" fill="#262626" text-anchor="middle">12</text>
<line x1="1151.5" y1="418.5" x2="1151.5" y2="414.0" stroke="#262626" stroke-width="1"/>
<text x="1151.4" y="447.3" font-size="20.4" fill="#262626" text-anchor="middle">15</text>
<line x1="1207.5" y1="418.5" x2="1207.5" y2="414.0" stroke="#262626" stroke-width="1"/>
<text x="1208.0" y="447.3" font-size="20.4" fill="#262626" text-anchor="middle">18</text>
<line x1="1264.5" y1="418.5" x2="1264.5" y2="414.0" stroke="#262626" stroke-width="1"/>
<text x="1264.7" y="447.3" font-size="20.4" fill="#262626" text-anchor="middle">21</text>
<line x1="1321.5" y1="418.5" x2="1321.5" y2="414.0" stroke="#262626" stroke-width="1"/>
<text x="1321.3" y="447.3" font-size="20.4" fill="#262626" text-anchor="middle">24</text>
<line x1="868.5" y1="148.5" x2="873.5" y2="148.5" stroke="#0000ff" stroke-width="1"/>
<text x="859.5" y="155.8" font-size="20.8" fill="#0000ff" text-anchor="end">20</text>
<line x1="868.5" y1="207.5" x2="873.5" y2="207.5" stroke="#0000ff" stroke-width="1"/>
<text x="859.5" y="214.6" font-size="20.8" fill="#0000ff" text-anchor="end">10</text>
<line x1="868.5" y1="266.5" x2="873.5" y2="266.5" stroke="#0000ff" stroke-width="1"/>
<text x="859.5" y="273.4" font-size="20.8" fill="#0000ff" text-anchor="end">0</text>
<line x1="868.5" y1="324.5" x2="873.5" y2="324.5" stroke="#0000ff" stroke-width="1"/>
<text x="859.5" y="332.2" font-size="20.8" fill="#0000ff" text-anchor="end">-10</text>
<line x1="868.5" y1="383.5" x2="873.5" y2="383.5" stroke="#0000ff" stroke-width="1"/>
<text x="859.5" y="391.0" font-size="20.8" fill="#0000ff" text-anchor="end">-20</text>
<line x1="1321.5" y1="148.5" x2="1316.5" y2="148.5" stroke="#262626" stroke-width="1"/>
<text x="1329.9" y="155.7" font-size="20.4" fill="#262626">2</text>
<line x1="1321.5" y1="207.5" x2="1316.5" y2="207.5" stroke="#262626" stroke-width="1"/>
<text x="1329.9" y="214.5" font-size="20.4" fill="#262626">1</text>
<line x1="1321.5" y1="266.5" x2="1316.5" y2="266.5" stroke="#262626" stroke-width="1"/>
<text x="1329.9" y="273.3" font-size="20.4" fill="#262626">0</text>
<line x1="1321.5" y1="324.5" x2="1316.5" y2="324.5" stroke="#262626" stroke-width="1"/>
<text x="1329.9" y="332.1" font-size="20.4" fill="#262626">-1</text>
<line x1="1321.5" y1="383.5" x2="1316.5" y2="383.5" stroke="#262626" stroke-width="1"/>
<text x="1329.9" y="390.9" font-size="20.4" fill="#262626">-2</text>
<text x="1094.5" y="478.5" font-size="23.2" fill="#262626" text-anchor="middle">UT Time /h</text>
<text x="1103" y="62" font-size="25.2" fill="#000" text-anchor="middle">Eyrewell</text>
<text x="815" y="264.3" font-size="16.4" fill="#0000ff" text-anchor="middle" transform="rotate(-90 815 264.3)">X Mean Magnetic Field / nT</text>
<text x="1372.5" y="263.5" font-size="16.7" fill="#000" text-anchor="middle" transform="rotate(-90 1372.5 263.5)">Rate of Change / nT/min</text>
<rect x="1465.0" y="108.0" width="112.0" height="310.0" fill="#e6e6e6"/>
<rect x="1821.2" y="108.0" width="92.2" height="310.0" fill="#e6e6e6"/>
<text x="1464.1" y="100" font-size="12.63" fill="#000">File Updated:25-Sep-2025 18:49:02 UTC</text>
<text x="1907.3" y="107" font-size="14.6" fill="#000" text-anchor="end">minute resolution</text>
<polyline fill="none" stroke="#000" stroke-opacity="0.55" stroke-width="0.45" stroke-linejoin="miter" points="1464.5,277.1 1464.8,263.7 1465.1,279.0 1465.4,300.0 1465.8,298.4 1466.1,287.4 1466.4,280.9 1466.7,277.6 1467.0,269.2 1467.3,264.4 1467.6,276.7 1467.9,280.9 1468.2,272.1 1468.6,276.2 1468.9,284.0 1469.2,295.7 1469.5,317.4 1469.8,319.7 1470.1,298.5 1470.4,255.2 1470.8,244.5 1471.1,260.0 1471.4,275.2 1471.7,289.2 1472.0,294.9 1472.3,288.5 1472.6,284.4 1472.9,267.3 1473.2,249.5 1473.6,259.4 1473.9,268.5 1474.2,249.0 1474.5,240.4 1474.8,270.0 1475.1,289.4 1475.4,267.1 1475.8,252.2 1476.1,243.0 1476.4,251.0 1476.7,271.2 1477.0,290.5 1477.3,302.3 1477.6,295.7 1477.9,281.8 1478.2,283.7 1478.6,288.2 1478.9,292.4 1479.2,301.2 1479.5,289.2 1479.8,277.4 1480.1,282.0 1480.4,276.9 1480.8,270.6 1481.1,263.8 1481.4,253.2 1481.7,265.1 1482.0,249.6 1482.3,237.3 1482.6,242.9 1482.9,263.2 1483.2,271.0 1483.6,279.2 1483.9,342.4 1484.2,302.3 1484.5,286.7 1484.8,254.0 1485.1,268.4 1485.4,271.3 1485.8,275.3 1486.1,279.7 1486.4,281.1 1486.7,278.0 1487.0,268.5 1487.3,268.9 1487.6,278.8 1487.9,280.3 1488.2,288.8 1488.6,276.3 1488.9,241.8 1489.2,249.7 1489.5,264.5 1489.8,258.4 1490.1,273.1 1490.4,277.9 1490.8,267.1 1491.1,281.1 1491.4,291.0 1491.7,273.3 1492.0,280.2 1492.3,300.0 1492.6,303.1 1492.9,291.9 1493.2,278.4 1493.6,288.7 1493.9,286.5 1494.2,267.9 1494.5,280.9 1494.8,285.4 1495.1,286.3 1495.4,301.7 1495.8,261.8 1496.1,254.0 1496.4,211.8 1496.7,263.0 1497.0,247.3 1497.3,264.1 1497.6,276.5 1497.9,277.8 1498.2,286.4 1498.6,301.4 1498.9,316.2 1499.2,315.8 1499.5,312.7 1499.8,315.6 1500.1,304.1 1500.4,274.2 1500.8,255.5 1501.1,267.9 1501.4,297.5 1501.7,314.6 1502.0,300.1 1502.3,272.9 1502.6,261.9 1502.9,258.2 1503.2,244.2 1503.6,240.9 1503.9,247.5 1504.2,284.4 1504.5,308.3 1504.8,283.7 1505.1,264.0 1505.4,270.5 1505.8,273.8 1506.1,281.7 1506.4,299.7 1506.7,300.4 1507.0,284.8 1507.3,342.4 1507.6,278.5 1507.9,267.6 1508.2,295.2 1508.6,286.0 1508.9,262.6 1509.2,260.4 1509.5,275.2 1509.8,297.8 1510.1,260.0 1510.4,237.1 1510.8,253.9 1511.1,280.0 1511.4,285.5 1511.7,270.9 1512.0,208.9 1512.3,272.0 1512.6,301.4 1512.9,279.2 1513.2,269.0 1513.6,267.6 1513.9,262.6 1514.2,283.6 1514.5,308.2 1514.8,315.6 1515.1,305.3 1515.4,286.8 1515.8,279.5 1516.1,281.2 1516.4,300.6 1516.7,309.1 1517.0,282.9 1517.3,271.5 1517.6,273.7 1517.9,263.9 1518.2,267.0 1518.6,283.3 1518.9,288.6 1519.2,281.7 1519.5,273.9 1519.8,268.2 1520.1,258.9 1520.4,251.3 1520.8,259.2 1521.1,282.3 1521.4,295.5 1521.7,292.2 1522.0,272.2 1522.3,223.5 1522.6,265.4 1522.9,264.9 1523.2,268.3 1523.6,267.4 1523.9,277.6 1524.2,296.5 1524.5,286.4 1524.8,271.2 1525.1,271.4 1525.4,277.5 1525.8,284.7 1526.1,288.1 1526.4,292.1 1526.7,290.1 1527.0,285.7 1527.3,284.9 1527.6,270.7 1527.9,261.3 1528.2,278.5 1528.6,282.3 1528.9,271.3 1529.2,287.6 1529.5,307.6 1529.8,297.1 1530.1,282.7 1530.4,269.1 1530.8,256.7 1531.1,266.8 1531.4,279.2 1531.7,280.2 1532.0,270.1 1532.3,269.8 1532.6,281.6 1532.9,273.3 1533.2,265.1 1533.6,285.4 1533.9,306.1 1534.2,290.1 1534.5,258.0 1534.8,252.9 1535.1,257.6 1535.4,250.6 1535.8,249.6 1536.1,265.0 1536.4,293.8 1536.7,311.0 1537.0,304.8 1537.3,276.4 1537.6,248.7 1537.9,263.8 1538.2,273.5 1538.6,256.4 1538.9,269.8 1539.2,285.4 1539.5,274.4 1539.8,272.8 1540.1,282.7 1540.4,278.3 1540.8,272.6 1541.1,271.9 1541.4,256.9 1541.7,253.1 1542.0,262.0 1542.3,265.4 1542.6,270.7 1542.9,277.9 1543.2,289.6 1543.6,298.4 1543.9,300.9 1544.2,294.0 1544.5,280.6 1544.8,284.3 1545.1,297.4 1545.4,295.8 1545.8,292.4 1546.1,294.1 1546.4,292.8 1546.7,296.8 1547.0,269.4 1547.3,193.3 1547.6,274.0 1547.9,298.9 1548.2,298.7 1548.6,315.6 1548.9,315.3 1549.2,302.3 1549.5,293.3 1549.8,341.4 1550.1,281.6 1550.4,247.9 1550.8,239.5 1551.1,248.1 1551.4,269.9 1551.7,289.0 1552.0,297.1 1552.3,279.6 1552.6,272.2 1552.9,290.8 1553.2,310.7 1553.6,290.3 1553.9,268.7 1554.2,276.4 1554.5,280.3 1554.8,278.4 1555.1,271.4 1555.4,257.0 1555.8,257.3 1556.1,265.6 1556.4,263.3 1556.7,269.1 1557.0,284.1 1557.3,283.1 1557.6,269.1 1557.9,260.7 1558.2,256.2 1558.6,277.6 1558.9,309.5 1559.2,290.3 1559.5,278.9 1559.8,303.6 1560.1,294.5 1560.4,283.4 1560.8,285.1 1561.1,271.5 1561.4,265.4 1561.7,271.9 1562.0,295.1 1562.3,306.1 1562.6,298.1 1562.9,305.5 1563.2,296.6 1563.6,268.1 1563.9,259.7 1564.2,263.7 1564.5,267.5 1564.8,278.1 1565.1,284.4 1565.4,291.1 1565.8,291.1 1566.1,276.4 1566.4,271.8 1566.7,277.1 1567.0,277.8 1567.3,300.6 1567.6,317.6 1567.9,296.9 1568.2,276.6 1568.6,283.9 1568.9,277.7 1569.2,269.8 1569.5,264.9 1569.8,255.0 1570.1,263.8 1570.4,283.8 1570.8,283.4 1571.1,276.9 1571.4,271.6 1571.7,258.8 1572.0,240.8 1572.3,239.2 1572.6,257.1 1572.9,277.0 1573.2,284.3 1573.6,324.9 1573.9,291.7 1574.2,304.3 1574.5,288.3 1574.8,274.2 1575.1,269.3 1575.4,272.0 1575.8,273.1 1576.1,280.5 1576.4,298.0 1576.7,299.4 1577.0,287.2 1577.3,283.6 1577.6,281.3 1577.9,266.5 1578.2,244.1 1578.6,240.9 1578.9,250.9 1579.2,285.0 1579.5,369.7 1579.8,283.0 1580.1,265.2 1580.4,275.8 1580.8,290.6 1581.1,299.1 1581.4,295.3 1581.7,271.7 1582.0,278.3 1582.3,343.4 1582.6,289.7 1582.9,262.8 1583.2,261.7 1583.6,268.8 1583.9,293.7 1584.2,318.1 1584.5,308.4 1584.8,278.4 1585.1,270.5 1585.4,272.9 1585.8,283.3 1586.1,286.4 1586.4,278.1 1586.7,272.6 1587.0,273.3 1587.3,273.8 1587.6,269.6 1587.9,269.0 1588.2,285.8 1588.6,312.1 1588.9,318.5 1589.2,315.5 1589.5,301.2 1589.8,296.5 1590.1,273.6 1590.4,259.1 1590.8,267.1 1591.1,273.5 1591.4,269.9 1591.7,260.9 1592.0,262.5 1592.3,278.2 1592.6,284.8 1592.9,281.4 1593.2,289.4 1593.6,310.1 1593.9,310.2 1594.2,290.6 1594.5,289.9 1594.8,292.3 1595.1,279.9 1595.4,283.5 1595.8,301.1 1596.1,281.6 1596.4,258.6 1596.7,267.5 1597.0,277.8 1597.3,285.2 1597.6,291.8 1597.9,300.3 1598.2,305.3 1598.6,294.8 1598.9,280.5 1599.2,277.5 1599.5,282.1 1599.8,286.4 1600.1,286.0 1600.4,280.4 1600.8,275.4 1601.1,275.0 1601.4,280.9 1601.7,301.4 1602.0,314.4 1602.3,296.0 1602.6,274.0 1602.9,287.1 1603.2,317.3 1603.6,318.8 1603.9,313.3 1604.2,302.9 1604.5,292.4 1604.8,287.1 1605.1,268.3 1605.4,250.4 1605.8,284.9 1606.1,315.8 1606.4,297.8 1606.7,274.5 1607.0,268.2 1607.3,274.1 1607.6,294.7 1607.9,311.0 1608.2,299.0 1608.6,282.3 1608.9,274.7 1609.2,277.1 1609.5,286.7 1609.8,285.7 1610.1,290.6 1610.4,288.4 1610.8,267.7 1611.1,275.1 1611.4,296.7 1611.7,297.4 1612.0,293.4 1612.3,291.1 1612.6,276.9 1612.9,252.2 1613.2,254.9 1613.6,282.3 1613.9,287.6 1614.2,276.5 1614.5,283.0 1614.8,303.2 1615.1,301.0 1615.4,301.0 1615.8,321.4 1616.1,322.2 1616.4,297.4 1616.7,271.3 1617.0,266.0 1617.3,265.8 1617.6,264.3 1617.9,285.1 1618.2,362.9 1618.6,294.4 1618.9,301.4 1619.2,304.9 1619.5,280.7 1619.8,304.6 1620.1,319.9 1620.4,287.9 1620.8,260.8 1621.1,269.0 1621.4,277.7 1621.7,290.1 1622.0,259.1 1622.3,271.0 1622.6,351.2 1622.9,286.5 1623.2,276.2 1623.6,275.2 1623.9,282.2 1624.2,282.7 1624.5,279.5 1624.8,289.8 1625.1,289.6 1625.4,272.0 1625.8,281.9 1626.1,309.9 1626.4,295.5 1626.7,352.1 1627.0,276.5 1627.3,277.5 1627.6,294.6 1627.9,291.4 1628.2,283.1 1628.6,282.9 1628.9,289.5 1629.2,295.2 1629.5,285.4 1629.8,270.5 1630.1,269.0 1630.4,270.4 1630.8,264.1 1631.1,260.3 1631.4,260.3 1631.7,271.8 1632.0,289.8 1632.3,295.6 1632.6,290.9 1632.9,279.3 1633.2,266.9 1633.6,252.8 1633.9,245.2 1634.2,261.7 1634.5,276.1 1634.8,263.7 1635.1,266.5 1635.4,302.1 1635.8,301.9 1636.1,281.2 1636.4,287.9 1636.7,290.6 1637.0,286.4 1637.3,296.4 1637.6,298.0 1637.9,283.4 1638.2,289.4 1638.6,297.0 1638.9,314.2 1639.2,323.1 1639.5,304.2 1639.8,240.5 1640.1,246.5 1640.4,281.4 1640.8,284.8 1641.1,282.3 1641.4,284.2 1641.7,277.7 1642.0,262.7 1642.3,206.0 1642.6,265.4 1642.9,276.1 1643.2,279.2 1643.6,275.7 1643.9,275.5 1644.2,271.7 1644.5,258.9 1644.8,279.6 1645.1,314.8 1645.4,298.2 1645.8,269.5 1646.1,268.1 1646.4,271.6 1646.7,282.5 1647.0,297.8 1647.3,278.0 1647.6,274.1 1647.9,334.6 1648.2,296.8 1648.6,287.8 1648.9,267.0 1649.2,261.8 1649.5,278.1 1649.8,295.2 1650.1,280.9 1650.4,267.3 1650.8,281.6 1651.1,273.9 1651.4,231.8 1651.7,224.7 1652.0,238.3 1652.3,248.0 1652.6,255.4 1652.9,272.5 1653.2,274.0 1653.6,275.2 1653.9,277.7 1654.2,276.1 1654.5,286.1 1654.8,300.4 1655.1,303.6 1655.4,291.7 1655.8,270.2 1656.1,270.3 1656.4,278.8 1656.7,273.4 1657.0,262.7 1657.3,199.2 1657.6,269.5 1657.9,302.3 1658.2,277.9 1658.6,252.0 1658.9,242.7 1659.2,242.1 1659.5,262.0 1659.8,273.8 1660.1,287.9 1660.4,304.1 1660.8,301.7 1661.1,300.9 1661.4,284.1 1661.7,266.0 1662.0,259.0 1662.3,255.1 1662.6,268.0 1662.9,278.4 1663.2,273.2 1663.6,265.0 1663.9,274.6 1664.2,292.5 1664.5,292.5 1664.8,282.9 1665.1,272.3 1665.4,268.9 1665.8,265.3 1666.1,265.9 1666.4,276.5 1666.7,267.1 1667.0,250.8 1667.3,278.4 1667.6,356.0 1667.9,287.0 1668.2,289.3 1668.6,288.9 1668.9,290.5 1669.2,294.1 1669.5,278.8 1669.8,272.7 1670.1,282.5 1670.4,282.8 1670.8,268.2 1671.1,263.6 1671.4,282.4 1671.7,286.3 1672.0,282.3 1672.3,287.6 1672.6,275.9 1672.9,270.9 1673.2,273.7 1673.6,254.4 1673.9,244.4 1674.2,259.0 1674.5,273.8 1674.8,285.0 1675.1,299.9 1675.4,311.3 1675.8,304.3 1676.1,284.0 1676.4,269.7 1676.7,259.7 1677.0,259.0 1677.3,268.1 1677.6,264.2 1677.9,258.5 1678.2,270.9 1678.6,290.1 1678.9,293.5 1679.2,289.3 1679.5,288.6 1679.8,275.9 1680.1,265.6 1680.4,274.0 1680.8,282.7 1681.1,273.8 1681.4,262.9 1681.7,209.9 1682.0,276.2 1682.3,297.4 1682.6,278.6 1682.9,271.7 1683.2,279.2 1683.6,296.5 1683.9,285.0 1684.2,258.5 1684.5,266.4 1684.8,287.5 1685.1,289.2 1685.4,277.7 1685.8,280.8 1686.1,309.9 1686.4,317.6 1686.7,316.0 1687.0,304.3 1687.3,277.2 1687.6,273.9 1687.9,294.1 1688.2,301.0 1688.6,315.7 1688.9,317.9 1689.2,289.6 1689.5,271.9 1689.8,287.5 1690.1,298.4 1690.4,305.9 1690.8,300.8 1691.1,294.1 1691.4,302.8 1691.7,309.2 1692.0,304.8 1692.3,282.3 1692.6,270.0 1692.9,274.7 1693.2,266.0 1693.6,269.5 1693.9,285.0 1694.2,293.5 1694.5,301.6 1694.8,283.6 1695.1,265.7 1695.4,298.4 1695.8,311.2 1696.1,280.8 1696.4,268.1 1696.7,276.2 1697.0,280.8 1697.3,296.0 1697.6,316.0 1697.9,306.6 1698.2,275.6 1698.6,265.0 1698.9,279.6 1699.2,316.4 1699.5,323.9 1699.8,315.8 1700.1,283.7 1700.4,298.7 1700.8,316.1 1701.1,309.8 1701.4,283.0 1701.7,263.9 1702.0,257.7 1702.3,258.6 1702.6,278.7 1702.9,301.1 1703.2,282.4 1703.6,251.8 1703.9,256.3 1704.2,291.4 1704.5,354.1 1704.8,302.6 1705.1,301.0 1705.4,282.0 1705.8,269.9 1706.1,279.2 1706.4,286.4 1706.7,269.4 1707.0,260.6 1707.3,268.3 1707.6,267.2 1707.9,261.7 1708.2,258.3 1708.6,261.1 1708.9,178.7 1709.2,274.1 1709.5,283.3 1709.8,266.8 1710.1,284.2 1710.4,274.5 1710.8,249.0 1711.1,257.9 1711.4,274.8 1711.7,275.2 1712.0,264.5 1712.3,265.1 1712.6,281.4 1712.9,298.1 1713.2,281.4 1713.6,260.4 1713.9,276.3 1714.2,288.9 1714.5,288.1 1714.8,276.4 1715.1,272.7 1715.4,286.2 1715.8,291.8 1716.1,292.8 1716.4,286.9 1716.7,282.9 1717.0,282.6 1717.3,275.0 1717.6,275.9 1717.9,286.2 1718.2,283.4 1718.6,264.9 1718.9,253.7 1719.2,255.2 1719.5,260.4 1719.8,273.4 1720.1,279.9 1720.4,268.5 1720.8,268.5 1721.1,285.2 1721.4,290.2 1721.7,286.2 1722.0,266.6 1722.3,242.5 1722.6,261.4 1722.9,287.7 1723.2,274.6 1723.6,257.1 1723.9,262.6 1724.2,276.7 1724.5,283.9 1724.8,278.8 1725.1,261.1 1725.4,245.4 1725.8,255.4 1726.1,276.2 1726.4,285.7 1726.7,295.7 1727.0,305.6 1727.3,304.5 1727.6,290.3 1727.9,276.8 1728.2,278.7 1728.6,280.8 1728.9,274.5 1729.2,273.7 1729.5,274.3 1729.8,273.6 1730.1,277.8 1730.4,295.1 1730.8,315.5 1731.1,301.3 1731.4,281.2 1731.7,281.0 1732.0,267.1 1732.3,255.6 1732.6,265.9 1732.9,287.1 1733.2,296.9 1733.6,290.0 1733.9,316.5 1734.2,324.1 1734.5,317.9 1734.8,304.3 1735.1,295.1 1735.4,272.5 1735.8,250.5 1736.1,251.2 1736.4,287.2 1736.7,316.4 1737.0,297.1 1737.3,334.6 1737.6,290.9 1737.9,291.9 1738.2,281.5 1738.6,262.4 1738.9,249.9 1739.2,258.5 1739.5,304.5 1739.8,322.0 1740.1,304.8 1740.4,269.5 1740.8,282.4 1741.1,276.2 1741.4,273.7 1741.7,294.9 1742.0,290.7 1742.3,273.8 1742.6,266.5 1742.9,277.4 1743.2,299.9 1743.6,304.9 1743.9,303.2 1744.2,310.8 1744.5,314.6 1744.8,294.7 1745.1,245.5 1745.4,237.7 1745.8,249.9 1746.1,269.7 1746.4,276.7 1746.7,277.2 1747.0,274.1 1747.3,283.8 1747.6,259.5 1747.9,238.8 1748.2,254.8 1748.6,282.4 1748.9,288.3 1749.2,293.1 1749.5,284.1 1749.8,273.3 1750.1,262.3 1750.4,279.5 1750.8,316.0 1751.1,315.5 1751.4,296.4 1751.7,278.9 1752.0,266.1 1752.3,273.7 1752.6,281.7 1752.9,281.1 1753.2,276.5 1753.6,282.8 1753.9,309.4 1754.2,311.9 1754.5,291.3 1754.8,285.2 1755.1,273.4 1755.4,264.8 1755.8,275.3 1756.1,279.7 1756.4,279.1 1756.7,283.7 1757.0,283.7 1757.3,275.8 1757.6,276.3 1757.9,271.2 1758.2,263.9 1758.6,280.6 1758.9,288.0 1759.2,291.8 1759.5,291.0 1759.8,262.5 1760.1,242.1 1760.4,248.0 1760.8,267.8 1761.1,294.2 1761.4,313.3 1761.7,301.5 1762.0,292.4 1762.3,284.6 1762.6,279.4 1762.9,311.2 1763.2,319.2 1763.6,309.5 1763.9,289.0 1764.2,285.7 1764.5,285.3 1764.8,282.0 1765.1,288.2 1765.4,274.3 1765.8,250.1 1766.1,262.1 1766.4,267.0 1766.7,279.9 1767.0,310.3 1767.3,293.3 1767.6,271.2 1767.9,278.4 1768.2,284.0 1768.6,273.5 1768.9,258.8 1769.2,280.9 1769.5,305.3 1769.8,290.0 1770.1,287.9 1770.4,294.7 1770.8,277.3 1771.1,266.8 1771.4,287.5 1771.7,305.9 1772.0,292.9 1772.3,280.8 1772.6,273.3 1772.9,260.1 1773.2,172.5 1773.6,349.2 1773.9,295.3 1774.2,296.2 1774.5,260.5 1774.8,240.1 1775.1,250.9 1775.4,283.7 1775.8,291.2 1776.1,286.8 1776.4,280.9 1776.7,269.7 1777.0,255.5 1777.3,256.6 1777.6,272.1 1777.9,278.5 1778.2,270.7 1778.6,262.1 1778.9,272.4 1779.2,280.3 1779.5,276.3 1779.8,275.7 1780.1,272.6 1780.4,274.0 1780.8,302.7 1781.1,317.7 1781.4,299.3 1781.7,278.5 1782.0,285.5 1782.3,285.6 1782.6,273.9 1782.9,270.9 1783.2,269.1 1783.6,270.6 1783.9,287.5 1784.2,295.7 1784.5,290.9 1784.8,284.4 1785.1,281.8 1785.4,287.3 1785.8,285.8 1786.1,280.8 1786.4,297.3 1786.7,304.6 1787.0,288.6 1787.3,347.3 1787.6,283.8 1787.9,269.4 1788.2,218.7 1788.6,283.3 1788.9,315.6 1789.2,315.7 1789.5,276.6 1789.8,269.9 1790.1,284.8 1790.4,258.3 1790.8,242.3 1791.1,254.9 1791.4,270.8 1791.7,280.3 1792.0,279.4 1792.3,289.9 1792.6,298.1 1792.9,286.1 1793.2,276.9 1793.6,276.7 1793.9,301.3 1794.2,298.7 1794.5,352.1 1794.8,287.5 1795.1,281.4 1795.4,268.5 1795.8,211.8 1796.1,272.6 1796.4,276.5 1796.7,271.4 1797.0,285.6 1797.3,295.5 1797.6,289.1 1797.9,291.4 1798.2,292.3 1798.6,278.5 1798.9,267.0 1799.2,274.7 1799.5,304.2 1799.8,292.8 1800.1,257.0 1800.4,257.0 1800.8,248.8 1801.1,242.0 1801.4,244.8 1801.7,267.5 1802.0,298.8 1802.3,284.2 1802.6,268.8 1802.9,263.3 1803.2,240.5 1803.6,238.9 1803.9,254.9 1804.2,285.1 1804.5,300.0 1804.8,277.3 1805.1,255.7 1805.4,283.4 1805.8,346.3 1806.1,288.8 1806.4,290.4 1806.7,294.2 1807.0,305.5 1807.3,305.2 1807.6,293.6 1807.9,302.1 1808.2,300.3 1808.6,288.7 1808.9,277.9 1809.2,261.3 1809.5,256.4 1809.8,236.8 1810.1,228.6 1810.4,238.5 1810.8,250.1 1811.1,253.5 1811.4,281.5 1811.7,301.2 1812.0,298.3 1812.3,276.3 1812.6,267.2 1812.9,268.6 1813.2,257.6 1813.6,262.7 1813.9,264.2 1814.2,240.3 1814.5,231.3 1814.8,230.5 1815.1,236.6 1815.4,239.8 1815.8,250.3 1816.1,289.0 1816.4,309.3 1816.7,304.3 1817.0,304.0"/>
<polyline fill="none" stroke="#0000ff" stroke-width="4.5" stroke-linejoin="round" stroke-linecap="round" points="1465.3,372.3 1467.8,362.1 1469.9,350.2 1471.2,346.0 1472.9,351.9 1475.0,348.5 1477.2,361.3 1479.3,353.6 1481.4,351.1 1483.5,349.4 1485.2,365.5 1487.4,362.1 1489.5,366.4 1490.8,350.2 1492.9,357.0 1494.6,373.2 1496.3,360.4 1498.0,340.0 1499.7,326.4 1501.8,320.5 1504.4,317.9 1505.2,308.6 1506.9,304.3 1508.6,317.1 1510.7,312.0 1512.4,312.8 1513.3,295.8 1514.6,283.9 1517.1,280.5 1519.7,278.0 1521.8,284.8 1522.6,276.3 1523.1,262.2 1525.2,260.5 1527.3,266.5 1528.2,279.7 1531.6,281.4 1534.1,288.2 1536.7,282.2 1540.1,280.5 1542.6,276.3 1546.0,273.7 1544.3,269.0 1546.0,252.0 1547.3,231.6 1548.6,226.5 1549.9,243.5 1552.0,252.0 1554.5,254.6 1556.2,263.1 1558.4,252.0 1559.2,233.3 1561.3,237.6 1563.9,228.2 1566.4,224.0 1568.1,216.3 1569.0,204.4 1570.3,200.2 1572.0,214.6 1573.7,228.2 1575.4,230.8 1576.6,214.6 1577.9,197.6 1579.2,186.6 1580.5,202.7 1582.2,212.9 1583.0,235.0 1584.3,246.1 1586.0,231.6 1587.3,228.2 1588.6,236.7 1591.1,246.1 1593.2,252.0 1595.4,244.4 1597.5,236.7 1599.2,235.0 1600.5,224.0 1602.2,220.6 1604.3,216.3 1605.6,212.9 1607.7,212.1 1609.0,197.6 1610.7,194.2 1612.4,192.5 1613.6,178.1 1614.9,170.4 1617.0,169.6 1617.9,155.1 1618.7,152.6 1620.4,165.3 1621.7,178.1 1623.0,194.2 1623.8,203.6 1625.1,190.0 1626.4,194.2 1627.7,197.6 1628.9,216.3 1630.6,233.3 1631.9,243.5 1633.2,258.8 1635.3,263.1 1636.6,270.7 1638.7,263.9 1641.0,260.5 1643.6,256.3 1645.7,231.6 1647.0,235.0 1649.1,252.0 1651.2,239.3 1653.8,226.5 1656.3,237.6 1657.6,218.0 1658.9,212.9 1661.0,224.0 1663.1,239.3 1664.8,247.8 1666.5,261.1 1667.8,273.8 1669.1,284.0 1670.3,297.6 1672.0,311.2 1673.3,324.0 1675.0,333.3 1677.6,328.2 1679.3,332.5 1681.0,318.0 1681.8,301.0 1682.7,287.4 1684.4,284.0 1686.1,292.5 1687.3,295.9 1689.0,290.0 1690.3,282.3 1692.0,278.9 1693.7,280.6 1695.4,279.8 1696.7,287.4 1698.4,297.6 1699.7,304.4 1700.5,308.7 1703.1,307.8 1704.4,316.3 1705.6,330.8 1706.5,343.5 1707.8,335.0 1709.0,311.2 1709.9,284.0 1710.7,262.8 1711.6,243.5 1713.3,241.0 1715.8,246.1 1717.5,254.6 1720.1,263.1 1723.1,267.3 1725.2,258.8 1727.3,246.1 1729.4,240.1 1731.1,238.4 1733.7,242.7 1736.2,248.6 1737.9,252.0 1738.8,258.5 1740.1,267.0 1742.2,275.5 1744.3,279.8 1746.0,286.6 1747.7,294.2 1749.8,298.5 1752.4,299.3 1753.2,307.8 1754.5,317.2 1756.6,321.4 1759.6,325.7 1761.3,315.5 1763.0,323.1 1765.1,329.9 1767.3,334.2 1769.0,324.8 1770.3,317.2 1772.4,329.9 1773.7,306.1 1775.4,318.0 1777.1,309.5 1779.2,318.9 1780.5,309.5 1782.2,307.8 1783.9,314.6 1785.6,305.3 1786.8,294.2 1789.0,300.2 1790.2,284.0 1791.5,274.7 1793.2,282.3 1794.9,288.3 1796.6,298.5 1798.7,307.8 1800.9,301.0 1803.0,301.0 1804.3,286.6 1806.4,304.4 1808.1,290.8 1809.4,282.3 1811.9,289.1 1813.6,275.5 1814.9,268.7 1816.2,278.1"/>
<line x1="1819.1" y1="279.0" x2="1914.5" y2="279.0" stroke="#0000ff" stroke-width="4.2"/>
<line x1="1464.5" y1="279.0" x2="1914.5" y2="279.0" stroke="#000" stroke-width="1.9" stroke-opacity="0.68" stroke-dasharray="20.8 12.5"/>
<line x1="1817.3" y1="138.0" x2="1817.3" y2="418.5" stroke="#00ffff" stroke-width="3.2"/>
<rect x="1811.2" y="103.75" width="110.2" height="39.6" fill="#fff" stroke="#00ffff" stroke-width="1.5"/>
<text x="1817.8" y="130.6" font-size="20.6" fill="#000">time now</text>
<line x1="1464.5" y1="108.0" x2="1464.5" y2="419.0" stroke="#0000ff" stroke-width="1"/>
<line x1="1914.5" y1="108.0" x2="1914.5" y2="419.0" stroke="#262626" stroke-width="1"/>
<line x1="1464.0" y1="418.5" x2="1915.0" y2="418.5" stroke="#262626" stroke-width="1"/>
<line x1="1464.5" y1="418.5" x2="1464.5" y2="414.0" stroke="#262626" stroke-width="1"/>
<text x="1464.3" y="447.3" font-size="20.4" fill="#262626" text-anchor="middle">0</text>
<line x1="1520.5" y1="418.5" x2="1520.5" y2="414.0" stroke="#262626" stroke-width="1"/>
<text x="1520.5" y="447.3" font-size="20.4" fill="#262626" text-anchor="middle">3</text>
<line x1="1576.5" y1="418.5" x2="1576.5" y2="414.0" stroke="#262626" stroke-width="1"/>
<text x="1576.8" y="447.3" font-size="20.4" fill="#262626" text-anchor="middle">6</text>
<line x1="1632.5" y1="418.5" x2="1632.5" y2="414.0" stroke="#262626" stroke-width="1"/>
<text x="1633.0" y="447.3" font-size="20.4" fill="#262626" text-anchor="middle">9</text>
<line x1="1689.5" y1="418.5" x2="1689.5" y2="414.0" stroke="#262626" stroke-width="1"/>
<text x="1689.3" y="447.3" font-size="20.4" fill="#262626" text-anchor="middle">12</text>
<line x1="1745.5" y1="418.5" x2="1745.5" y2="414.0" stroke="#262626" stroke-width="1"/>
<text x="1745.5" y="447.3" font-size="20.4" fill="#262626" text-anchor="middle">15</text>
<line x1="1801.5" y1="418.5" x2="1801.5" y2="414.0" stroke="#262626" stroke-width="1"/>
<text x="1801.8" y="447.3" font-size="20.4" fill="#262626" text-anchor="middle">18</text>
<line x1="1857.5" y1="418.5" x2="1857.5" y2="414.0" stroke="#262626" stroke-width="1"/>
<text x="1858.0" y="447.3" font-size="20.4" fill="#262626" text-anchor="middle">21</text>
<line x1="1914.5" y1="418.5" x2="1914.5" y2="414.0" stroke="#262626" stroke-width="1"/>
<text x="1914.3" y="447.3" font-size="20.4" fill="#262626" text-anchor="middle">24</text>
<line x1="1464.5" y1="152.5" x2="1469.5" y2="152.5" stroke="#0000ff" stroke-width="1"/>
<text x="1455.5" y="159.8" font-size="20.8" fill="#0000ff" text-anchor="end">20</text>
<line x1="1464.5" y1="215.5" x2="1469.5" y2="215.5" stroke="#0000ff" stroke-width="1"/>
<text x="1455.5" y="223.1" font-size="20.8" fill="#0000ff" text-anchor="end">10</text>
<line x1="1464.5" y1="279.5" x2="1469.5" y2="279.5" stroke="#0000ff" stroke-width="1"/>
<text x="1455.5" y="286.4" font-size="20.8" fill="#0000ff" text-anchor="end">0</text>
<line x1="1464.5" y1="342.5" x2="1469.5" y2="342.5" stroke="#0000ff" stroke-width="1"/>
<text x="1455.5" y="349.7" font-size="20.8" fill="#0000ff" text-anchor="end">-10</text>
<line x1="1464.5" y1="405.5" x2="1469.5" y2="405.5" stroke="#0000ff" stroke-width="1"/>
<text x="1455.5" y="413.0" font-size="20.8" fill="#0000ff" text-anchor="end">-20</text>
<line x1="1914.5" y1="152.5" x2="1909.5" y2="152.5" stroke="#262626" stroke-width="1"/>
<text x="1922.9" y="159.7" font-size="20.4" fill="#262626">2</text>
<line x1="1914.5" y1="215.5" x2="1909.5" y2="215.5" stroke="#262626" stroke-width="1"/>
<text x="1922.9" y="223.0" font-size="20.4" fill="#262626">1</text>
<line x1="1914.5" y1="279.5" x2="1909.5" y2="279.5" stroke="#262626" stroke-width="1"/>
<text x="1922.9" y="286.3" font-size="20.4" fill="#262626">0</text>
<line x1="1914.5" y1="342.5" x2="1909.5" y2="342.5" stroke="#262626" stroke-width="1"/>
<text x="1922.9" y="349.6" font-size="20.4" fill="#262626">-1</text>
<line x1="1914.5" y1="405.5" x2="1909.5" y2="405.5" stroke="#262626" stroke-width="1"/>
<text x="1922.9" y="412.9" font-size="20.4" fill="#262626">-2</text>
<text x="1689.0" y="478.5" font-size="23.2" fill="#262626" text-anchor="middle">UT Time /h</text>
<text x="1697.5" y="62" font-size="25.2" fill="#000" text-anchor="middle">Dunedin</text>
<text x="1411" y="264.3" font-size="16.4" fill="#0000ff" text-anchor="middle" transform="rotate(-90 1411 264.3)">X Mean Magnetic Field / nT</text>
<text x="1967" y="263.5" font-size="16.7" fill="#000" text-anchor="middle" transform="rotate(-90 1967 263.5)">Rate of Change / nT/min</text>
<rect x="276.0" y="537.0" width="112.5" height="310.0" fill="#e6e6e6"/>
<rect x="633.8" y="537.0" width="93.0" height="310.0" fill="#e6e6e6"/>
<line x1="275.5" y1="692.5" x2="727.5" y2="692.5" stroke="#000" stroke-width="1"/>
<rect x="512.2" y="754" width="13" height="32" fill="#00ff00"/>
<line x1="629.8" y1="567.5" x2="629.8" y2="847.5" stroke="#00ffff" stroke-width="3.1"/>
<rect x="623.8" y="533.0" width="110.2" height="39.4" fill="#fff" stroke="#00ffff" stroke-width="1.4"/>
<text x="630.4" y="560" font-size="20.6" fill="#000">time now</text>
<line x1="275.5" y1="537.0" x2="275.5" y2="848.0" stroke="#262626" stroke-width="1"/>
<line x1="275.0" y1="847.5" x2="728.0" y2="847.5" stroke="#262626" stroke-width="1"/>
<line x1="275.5" y1="847.5" x2="275.5" y2="843.0" stroke="#262626" stroke-width="1"/>
<text x="274.5" y="876.8" font-size="20.4" fill="#262626" text-anchor="middle">0</text>
<line x1="294.5" y1="847.5" x2="294.5" y2="843.0" stroke="#262626" stroke-width="1"/>
<line x1="312.5" y1="847.5" x2="312.5" y2="843.0" stroke="#262626" stroke-width="1"/>
<line x1="331.5" y1="847.5" x2="331.5" y2="843.0" stroke="#262626" stroke-width="1"/>
<text x="331.0" y="876.8" font-size="20.4" fill="#262626" text-anchor="middle">3</text>
<line x1="350.5" y1="847.5" x2="350.5" y2="843.0" stroke="#262626" stroke-width="1"/>
<line x1="369.5" y1="847.5" x2="369.5" y2="843.0" stroke="#262626" stroke-width="1"/>
<line x1="388.5" y1="847.5" x2="388.5" y2="843.0" stroke="#262626" stroke-width="1"/>
<text x="387.5" y="876.8" font-size="20.4" fill="#262626" text-anchor="middle">6</text>
<line x1="407.5" y1="847.5" x2="407.5" y2="843.0" stroke="#262626" stroke-width="1"/>
<line x1="425.5" y1="847.5" x2="425.5" y2="843.0" stroke="#262626" stroke-width="1"/>
<line x1="444.5" y1="847.5" x2="444.5" y2="843.0" stroke="#262626" stroke-width="1"/>
<text x="444.0" y="876.8" font-size="20.4" fill="#262626" text-anchor="middle">9</text>
<line x1="463.5" y1="847.5" x2="463.5" y2="843.0" stroke="#262626" stroke-width="1"/>
<line x1="482.5" y1="847.5" x2="482.5" y2="843.0" stroke="#262626" stroke-width="1"/>
<line x1="501.5" y1="847.5" x2="501.5" y2="843.0" stroke="#262626" stroke-width="1"/>
<text x="500.5" y="876.8" font-size="20.4" fill="#262626" text-anchor="middle">12</text>
<line x1="520.5" y1="847.5" x2="520.5" y2="843.0" stroke="#262626" stroke-width="1"/>
<line x1="538.5" y1="847.5" x2="538.5" y2="843.0" stroke="#262626" stroke-width="1"/>
<line x1="557.5" y1="847.5" x2="557.5" y2="843.0" stroke="#262626" stroke-width="1"/>
<text x="557.0" y="876.8" font-size="20.4" fill="#262626" text-anchor="middle">15</text>
<line x1="576.5" y1="847.5" x2="576.5" y2="843.0" stroke="#262626" stroke-width="1"/>
<line x1="595.5" y1="847.5" x2="595.5" y2="843.0" stroke="#262626" stroke-width="1"/>
<line x1="614.5" y1="847.5" x2="614.5" y2="843.0" stroke="#262626" stroke-width="1"/>
<text x="613.5" y="876.8" font-size="20.4" fill="#262626" text-anchor="middle">18</text>
<line x1="633.5" y1="847.5" x2="633.5" y2="843.0" stroke="#262626" stroke-width="1"/>
<line x1="651.5" y1="847.5" x2="651.5" y2="843.0" stroke="#262626" stroke-width="1"/>
<line x1="670.5" y1="847.5" x2="670.5" y2="843.0" stroke="#262626" stroke-width="1"/>
<text x="670.0" y="876.8" font-size="20.4" fill="#262626" text-anchor="middle">21</text>
<line x1="689.5" y1="847.5" x2="689.5" y2="843.0" stroke="#262626" stroke-width="1"/>
<line x1="708.5" y1="847.5" x2="708.5" y2="843.0" stroke="#262626" stroke-width="1"/>
<line x1="727.5" y1="847.5" x2="727.5" y2="843.0" stroke="#262626" stroke-width="1"/>
<text x="726.5" y="876.8" font-size="20.4" fill="#262626" text-anchor="middle">24</text>
<line x1="275.5" y1="537.5" x2="280.5" y2="537.5" stroke="#262626" stroke-width="1"/>
<line x1="275.5" y1="614.5" x2="280.5" y2="614.5" stroke="#262626" stroke-width="1"/>
<line x1="275.5" y1="692.5" x2="280.5" y2="692.5" stroke="#262626" stroke-width="1"/>
<line x1="275.5" y1="769.5" x2="280.5" y2="769.5" stroke="#262626" stroke-width="1"/>
<line x1="275.5" y1="847.5" x2="280.5" y2="847.5" stroke="#262626" stroke-width="1"/>
<text x="736.5" y="605.5" font-size="16.67" fill="#262626" font-weight="bold">dB/dT Alert</text>
<text x="736.5" y="760.8" font-size="16.67" fill="#0000ff" font-weight="bold">B Alert</text>
<rect x="869.0" y="537.0" width="112.8" height="310.0" fill="#e6e6e6"/>
<rect x="1227.6" y="537.0" width="93.2" height="310.0" fill="#e6e6e6"/>
<line x1="868.5" y1="692.5" x2="1321.5" y2="692.5" stroke="#000" stroke-width="1"/>
<line x1="1223.6" y1="567.5" x2="1223.6" y2="847.5" stroke="#00ffff" stroke-width="3.1"/>
<rect x="1217.6" y="533.0" width="110.2" height="39.4" fill="#fff" stroke="#00ffff" stroke-width="1.4"/>
<text x="1224.2" y="560" font-size="20.6" fill="#000">time now</text>
<line x1="868.5" y1="537.0" x2="868.5" y2="848.0" stroke="#262626" stroke-width="1"/>
<line x1="868.0" y1="847.5" x2="1322.0" y2="847.5" stroke="#262626" stroke-width="1"/>
<line x1="868.5" y1="847.5" x2="868.5" y2="843.0" stroke="#262626" stroke-width="1"/>
<text x="868.3" y="876.8" font-size="20.4" fill="#262626" text-anchor="middle">0</text>
<line x1="887.5" y1="847.5" x2="887.5" y2="843.0" stroke="#262626" stroke-width="1"/>
<line x1="905.5" y1="847.5" x2="905.5" y2="843.0" stroke="#262626" stroke-width="1"/>
<line x1="924.5" y1="847.5" x2="924.5" y2="843.0" stroke="#262626" stroke-width="1"/>
<text x="924.9" y="876.8" font-size="20.4" fill="#262626" text-anchor="middle">3</text>
<line x1="943.5" y1="847.5" x2="943.5" y2="843.0" stroke="#262626" stroke-width="1"/>
<line x1="962.5" y1="847.5" x2="962.5" y2="843.0" stroke="#262626" stroke-width="1"/>
<line x1="981.5" y1="847.5" x2="981.5" y2="843.0" stroke="#262626" stroke-width="1"/>
<text x="981.5" y="876.8" font-size="20.4" fill="#262626" text-anchor="middle">6</text>
<line x1="1000.5" y1="847.5" x2="1000.5" y2="843.0" stroke="#262626" stroke-width="1"/>
<line x1="1019.5" y1="847.5" x2="1019.5" y2="843.0" stroke="#262626" stroke-width="1"/>
<line x1="1038.5" y1="847.5" x2="1038.5" y2="843.0" stroke="#262626" stroke-width="1"/>
<text x="1038.2" y="876.8" font-size="20.4" fill="#262626" text-anchor="middle">9</text>
<line x1="1056.5" y1="847.5" x2="1056.5" y2="843.0" stroke="#262626" stroke-width="1"/>
<line x1="1075.5" y1="847.5" x2="1075.5" y2="843.0" stroke="#262626" stroke-width="1"/>
<line x1="1094.5" y1="847.5" x2="1094.5" y2="843.0" stroke="#262626" stroke-width="1"/>
<text x="1094.8" y="876.8" font-size="20.4" fill="#262626" text-anchor="middle">12</text>
<line x1="1113.5" y1="847.5" x2="1113.5" y2="843.0" stroke="#262626" stroke-width="1"/>
<line x1="1132.5" y1="847.5" x2="1132.5" y2="843.0" stroke="#262626" stroke-width="1"/>
<line x1="1151.5" y1="847.5" x2="1151.5" y2="843.0" stroke="#262626" stroke-width="1"/>
<text x="1151.4" y="876.8" font-size="20.4" fill="#262626" text-anchor="middle">15</text>
<line x1="1170.5" y1="847.5" x2="1170.5" y2="843.0" stroke="#262626" stroke-width="1"/>
<line x1="1189.5" y1="847.5" x2="1189.5" y2="843.0" stroke="#262626" stroke-width="1"/>
<line x1="1207.5" y1="847.5" x2="1207.5" y2="843.0" stroke="#262626" stroke-width="1"/>
<text x="1208.0" y="876.8" font-size="20.4" fill="#262626" text-anchor="middle">18</text>
<line x1="1226.5" y1="847.5" x2="1226.5" y2="843.0" stroke="#262626" stroke-width="1"/>
<line x1="1245.5" y1="847.5" x2="1245.5" y2="843.0" stroke="#262626" stroke-width="1"/>
<line x1="1264.5" y1="847.5" x2="1264.5" y2="843.0" stroke="#262626" stroke-width="1"/>
<text x="1264.7" y="876.8" font-size="20.4" fill="#262626" text-anchor="middle">21</text>
<line x1="1283.5" y1="847.5" x2="1283.5" y2="843.0" stroke="#262626" stroke-width="1"/>
<line x1="1302.5" y1="847.5" x2="1302.5" y2="843.0" stroke="#262626" stroke-width="1"/>
<line x1="1321.5" y1="847.5" x2="1321.5" y2="843.0" stroke="#262626" stroke-width="1"/>
<text x="1321.3" y="876.8" font-size="20.4" fill="#262626" text-anchor="middle">24</text>
<line x1="868.5" y1="537.5" x2="873.5" y2="537.5" stroke="#262626" stroke-width="1"/>
<line x1="868.5" y1="614.5" x2="873.5" y2="614.5" stroke="#262626" stroke-width="1"/>
<line x1="868.5" y1="692.5" x2="873.5" y2="692.5" stroke="#262626" stroke-width="1"/>
<line x1="868.5" y1="769.5" x2="873.5" y2="769.5" stroke="#262626" stroke-width="1"/>
<line x1="868.5" y1="847.5" x2="873.5" y2="847.5" stroke="#262626" stroke-width="1"/>
<text x="1330.5" y="605.5" font-size="16.67" fill="#262626" font-weight="bold">dB/dT Alert</text>
<text x="1330.5" y="760.8" font-size="16.67" fill="#0000ff" font-weight="bold">B Alert</text>
<rect x="1465.0" y="537.0" width="112.0" height="310.0" fill="#e6e6e6"/>
<rect x="1821.2" y="537.0" width="92.5" height="310.0" fill="#e6e6e6"/>
<line x1="1464.5" y1="692.5" x2="1914.5" y2="692.5" stroke="#000" stroke-width="1"/>
<line x1="1817.3" y1="567.5" x2="1817.3" y2="847.5" stroke="#00ffff" stroke-width="3.1"/>
<rect x="1811.2" y="533.0" width="110.2" height="39.4" fill="#fff" stroke="#00ffff" stroke-width="1.4"/>
<text x="1817.8" y="560" font-size="20.6" fill="#000">time now</text>
<line x1="1464.5" y1="537.0" x2="1464.5" y2="848.0" stroke="#262626" stroke-width="1"/>
<line x1="1464.0" y1="847.5" x2="1915.0" y2="847.5" stroke="#262626" stroke-width="1"/>
<line x1="1464.5" y1="847.5" x2="1464.5" y2="843.0" stroke="#262626" stroke-width="1"/>
<text x="1464.3" y="876.8" font-size="20.4" fill="#262626" text-anchor="middle">0</text>
<line x1="1482.5" y1="847.5" x2="1482.5" y2="843.0" stroke="#262626" stroke-width="1"/>
<line x1="1501.5" y1="847.5" x2="1501.5" y2="843.0" stroke="#262626" stroke-width="1"/>
<line x1="1520.5" y1="847.5" x2="1520.5" y2="843.0" stroke="#262626" stroke-width="1"/>
<text x="1520.5" y="876.8" font-size="20.4" fill="#262626" text-anchor="middle">3</text>
<line x1="1539.5" y1="847.5" x2="1539.5" y2="843.0" stroke="#262626" stroke-width="1"/>
<line x1="1557.5" y1="847.5" x2="1557.5" y2="843.0" stroke="#262626" stroke-width="1"/>
<line x1="1576.5" y1="847.5" x2="1576.5" y2="843.0" stroke="#262626" stroke-width="1"/>
<text x="1576.8" y="876.8" font-size="20.4" fill="#262626" text-anchor="middle">6</text>
<line x1="1595.5" y1="847.5" x2="1595.5" y2="843.0" stroke="#262626" stroke-width="1"/>
<line x1="1614.5" y1="847.5" x2="1614.5" y2="843.0" stroke="#262626" stroke-width="1"/>
<line x1="1632.5" y1="847.5" x2="1632.5" y2="843.0" stroke="#262626" stroke-width="1"/>
<text x="1633.0" y="876.8" font-size="20.4" fill="#262626" text-anchor="middle">9</text>
<line x1="1651.5" y1="847.5" x2="1651.5" y2="843.0" stroke="#262626" stroke-width="1"/>
<line x1="1670.5" y1="847.5" x2="1670.5" y2="843.0" stroke="#262626" stroke-width="1"/>
<line x1="1689.5" y1="847.5" x2="1689.5" y2="843.0" stroke="#262626" stroke-width="1"/>
<text x="1689.3" y="876.8" font-size="20.4" fill="#262626" text-anchor="middle">12</text>
<line x1="1707.5" y1="847.5" x2="1707.5" y2="843.0" stroke="#262626" stroke-width="1"/>
<line x1="1726.5" y1="847.5" x2="1726.5" y2="843.0" stroke="#262626" stroke-width="1"/>
<line x1="1745.5" y1="847.5" x2="1745.5" y2="843.0" stroke="#262626" stroke-width="1"/>
<text x="1745.5" y="876.8" font-size="20.4" fill="#262626" text-anchor="middle">15</text>
<line x1="1764.5" y1="847.5" x2="1764.5" y2="843.0" stroke="#262626" stroke-width="1"/>
<line x1="1782.5" y1="847.5" x2="1782.5" y2="843.0" stroke="#262626" stroke-width="1"/>
<line x1="1801.5" y1="847.5" x2="1801.5" y2="843.0" stroke="#262626" stroke-width="1"/>
<text x="1801.8" y="876.8" font-size="20.4" fill="#262626" text-anchor="middle">18</text>
<line x1="1820.5" y1="847.5" x2="1820.5" y2="843.0" stroke="#262626" stroke-width="1"/>
<line x1="1839.5" y1="847.5" x2="1839.5" y2="843.0" stroke="#262626" stroke-width="1"/>
<line x1="1857.5" y1="847.5" x2="1857.5" y2="843.0" stroke="#262626" stroke-width="1"/>
<text x="1858.0" y="876.8" font-size="20.4" fill="#262626" text-anchor="middle">21</text>
<line x1="1876.5" y1="847.5" x2="1876.5" y2="843.0" stroke="#262626" stroke-width="1"/>
<line x1="1895.5" y1="847.5" x2="1895.5" y2="843.0" stroke="#262626" stroke-width="1"/>
<line x1="1914.5" y1="847.5" x2="1914.5" y2="843.0" stroke="#262626" stroke-width="1"/>
<text x="1914.3" y="876.8" font-size="20.4" fill="#262626" text-anchor="middle">24</text>
<line x1="1464.5" y1="537.5" x2="1469.5" y2="537.5" stroke="#262626" stroke-width="1"/>
<line x1="1464.5" y1="614.5" x2="1469.5" y2="614.5" stroke="#262626" stroke-width="1"/>
<line x1="1464.5" y1="692.5" x2="1469.5" y2="692.5" stroke="#262626" stroke-width="1"/>
<line x1="1464.5" y1="769.5" x2="1469.5" y2="769.5" stroke="#262626" stroke-width="1"/>
<line x1="1464.5" y1="847.5" x2="1469.5" y2="847.5" stroke="#262626" stroke-width="1"/>
<rect x="268" y="881.6" width="160" height="40.6" fill="#00ff00"/>
<text x="274.0" y="909.2" font-size="20.9" fill="#000">minor activity</text>
<rect x="432.1" y="881.6" width="197" height="40.6" fill="#ffff00"/>
<text x="438.7" y="909.2" font-size="20.9" fill="#000">moderate activity</text>
<rect x="629.1" y="881.6" width="165.4" height="40.6" fill="#ff0000"/>
<text x="635.3" y="909.2" font-size="20.9" fill="#000">strong activity</text>
<text x="1258.4" y="909.4" font-size="21.2" fill="#000">Current Warning:</text>
<text x="1455.6" y="911.7" font-size="31.25" fill="#000">0.0/9</text>
<rect x="276.0" y="935.0" width="409.2" height="331.5" fill="#e6e6e6"/>
<rect x="1573.7" y="935.0" width="340.8" height="331.5" fill="#e6e6e6"/>
<rect x="1140.5" y="1241.5" width="11.0" height="25" fill="#00ff00" stroke="#000" stroke-width="1"/>
<rect x="1151.5" y="1241.5" width="12.0" height="25" fill="#00ff00" stroke="#000" stroke-width="1"/>
<rect x="1163.5" y="1241.5" width="11.0" height="25" fill="#00ff00" stroke="#000" stroke-width="1"/>
<line x1="1561.6" y1="965.0" x2="1561.6" y2="1266.5" stroke="#00ffff" stroke-width="2.9"/>
<rect x="1555.7" y="933.6" width="110.5" height="39.7" fill="#fff" stroke="#00ffff" stroke-width="1.4"/>
<text x="1562.4" y="960.8" font-size="20.6" fill="#000">time now</text>
<line x1="275.5" y1="935.0" x2="275.5" y2="1267.0" stroke="#262626" stroke-width="1"/>
<line x1="275.0" y1="1266.5" x2="1915.0" y2="1266.5" stroke="#262626" stroke-width="1"/>
<line x1="275.5" y1="1266.5" x2="275.5" y2="1249.5" stroke="#262626" stroke-width="1"/>
<text x="274.6" y="1294.8" font-size="20.4" fill="#262626" text-anchor="middle">0</text>
<line x1="343.5" y1="1266.5" x2="343.5" y2="1249.5" stroke="#262626" stroke-width="1"/>
<text x="342.9" y="1294.8" font-size="20.4" fill="#262626" text-anchor="middle">1</text>
<line x1="411.5" y1="1266.5" x2="411.5" y2="1249.5" stroke="#262626" stroke-width="1"/>
<text x="411.2" y="1294.8" font-size="20.4" fill="#262626" text-anchor="middle">2</text>
<line x1="480.5" y1="1266.5" x2="480.5" y2="1249.5" stroke="#262626" stroke-width="1"/>
<text x="479.5" y="1294.8" font-size="20.4" fill="#262626" text-anchor="middle">3</text>
<line x1="548.5" y1="1266.5" x2="548.5" y2="1249.5" stroke="#262626" stroke-width="1"/>
<text x="547.8" y="1294.8" font-size="20.4" fill="#262626" text-anchor="middle">4</text>
<line x1="616.5" y1="1266.5" x2="616.5" y2="1249.5" stroke="#262626" stroke-width="1"/>
<text x="616.1" y="1294.8" font-size="20.4" fill="#262626" text-anchor="middle">5</text>
<line x1="684.5" y1="1266.5" x2="684.5" y2="1249.5" stroke="#262626" stroke-width="1"/>
<text x="684.4" y="1294.8" font-size="20.4" fill="#262626" text-anchor="middle">6</text>
<line x1="753.5" y1="1266.5" x2="753.5" y2="1249.5" stroke="#262626" stroke-width="1"/>
<text x="752.6" y="1294.8" font-size="20.4" fill="#262626" text-anchor="middle">7</text>
<line x1="821.5" y1="1266.5" x2="821.5" y2="1249.5" stroke="#262626" stroke-width="1"/>
<text x="820.9" y="1294.8" font-size="20.4" fill="#262626" text-anchor="middle">8</text>
<line x1="889.5" y1="1266.5" x2="889.5" y2="1249.5" stroke="#262626" stroke-width="1"/>
<text x="889.2" y="1294.8" font-size="20.4" fill="#262626" text-anchor="middle">9</text>
<line x1="958.5" y1="1266.5" x2="958.5" y2="1249.5" stroke="#262626" stroke-width="1"/>
<text x="958.3" y="1294.8" font-size="20.4" fill="#262626" text-anchor="middle">10</text>
<line x1="1026.5" y1="1266.5" x2="1026.5" y2="1249.5" stroke="#262626" stroke-width="1"/>
<text x="1026.6" y="1294.8" font-size="20.4" fill="#262626" text-anchor="middle">11</text>
<line x1="1094.5" y1="1266.5" x2="1094.5" y2="1249.5" stroke="#262626" stroke-width="1"/>
<text x="1094.9" y="1294.8" font-size="20.4" fill="#262626" text-anchor="middle">12</text>
<line x1="1162.5" y1="1266.5" x2="1162.5" y2="1249.5" stroke="#262626" stroke-width="1"/>
<text x="1163.2" y="1294.8" font-size="20.4" fill="#262626" text-anchor="middle">13</text>
<line x1="1231.5" y1="1266.5" x2="1231.5" y2="1249.5" stroke="#262626" stroke-width="1"/>
<text x="1231.5" y="1294.8" font-size="20.4" fill="#262626" text-anchor="middle">14</text>
<line x1="1299.5" y1="1266.5" x2="1299.5" y2="1249.5" stroke="#262626" stroke-width="1"/>
<text x="1299.8" y="1294.8" font-size="20.4" fill="#262626" text-anchor="middle">15</text>
<line x1="1367.5" y1="1266.5" x2="1367.5" y2="1249.5" stroke="#262626" stroke-width="1"/>
<text x="1368.1" y="1294.8" font-size="20.4" fill="#262626" text-anchor="middle">16</text>
<line x1="1436.5" y1="1266.5" x2="1436.5" y2="1249.5" stroke="#262626" stroke-width="1"/>
<text x="1436.4" y="1294.8" font-size="20.4" fill="#262626" text-anchor="middle">17</text>
<line x1="1504.5" y1="1266.5" x2="1504.5" y2="1249.5" stroke="#262626" stroke-width="1"/>
<text x="1504.7" y="1294.8" font-size="20.4" fill="#262626" text-anchor="middle">18</text>
<line x1="1572.5" y1="1266.5" x2="1572.5" y2="1249.5" stroke="#262626" stroke-width="1"/>
<text x="1572.9" y="1294.8" font-size="20.4" fill="#262626" text-anchor="middle">19</text>
<line x1="1641.5" y1="1266.5" x2="1641.5" y2="1249.5" stroke="#262626" stroke-width="1"/>
<text x="1641.2" y="1294.8" font-size="20.4" fill="#262626" text-anchor="middle">20</text>
<line x1="1709.5" y1="1266.5" x2="1709.5" y2="1249.5" stroke="#262626" stroke-width="1"/>
<text x="1709.5" y="1294.8" font-size="20.4" fill="#262626" text-anchor="middle">21</text>
<line x1="1777.5" y1="1266.5" x2="1777.5" y2="1249.5" stroke="#262626" stroke-width="1"/>
<text x="1777.8" y="1294.8" font-size="20.4" fill="#262626" text-anchor="middle">22</text>
<line x1="1845.5" y1="1266.5" x2="1845.5" y2="1249.5" stroke="#262626" stroke-width="1"/>
<text x="1846.1" y="1294.8" font-size="20.4" fill="#262626" text-anchor="middle">23</text>
<line x1="1914.5" y1="1266.5" x2="1914.5" y2="1249.5" stroke="#262626" stroke-width="1"/>
<line x1="275.5" y1="1266.5" x2="292.5" y2="1266.5" stroke="#262626" stroke-width="1"/>
<text x="264.3" y="1273.8" font-size="20.4" fill="#262626" text-anchor="end">0</text>
<line x1="275.5" y1="1192.5" x2="292.5" y2="1192.5" stroke="#262626" stroke-width="1"/>
<text x="264.3" y="1199.8" font-size="20.4" fill="#262626" text-anchor="end">2</text>
<line x1="275.5" y1="1119.5" x2="292.5" y2="1119.5" stroke="#262626" stroke-width="1"/>
<text x="264.3" y="1126.8" font-size="20.4" fill="#262626" text-anchor="end">4</text>
<line x1="275.5" y1="1045.5" x2="292.5" y2="1045.5" stroke="#262626" stroke-width="1"/>
<text x="264.3" y="1052.8" font-size="20.4" fill="#262626" text-anchor="end">6</text>
<line x1="275.5" y1="971.5" x2="292.5" y2="971.5" stroke="#262626" stroke-width="1"/>
<text x="264.3" y="978.8" font-size="20.4" fill="#262626" text-anchor="end">8</text>
<text x="240.1" y="1101.2" font-size="23.25" fill="#262626" text-anchor="middle" transform="rotate(-90 240.1 1101.2)">Warning Values</text>
<text x="1095.0" y="1326.6" font-size="23.2" fill="#262626" text-anchor="middle">Time UTC / h</text>
<text x="849.8" y="1358.7" font-size="20.93" fill="#000">Last updated: Fri 26 Sep 2025 06:50:35 NZST</text>
</svg>
</body></html>
